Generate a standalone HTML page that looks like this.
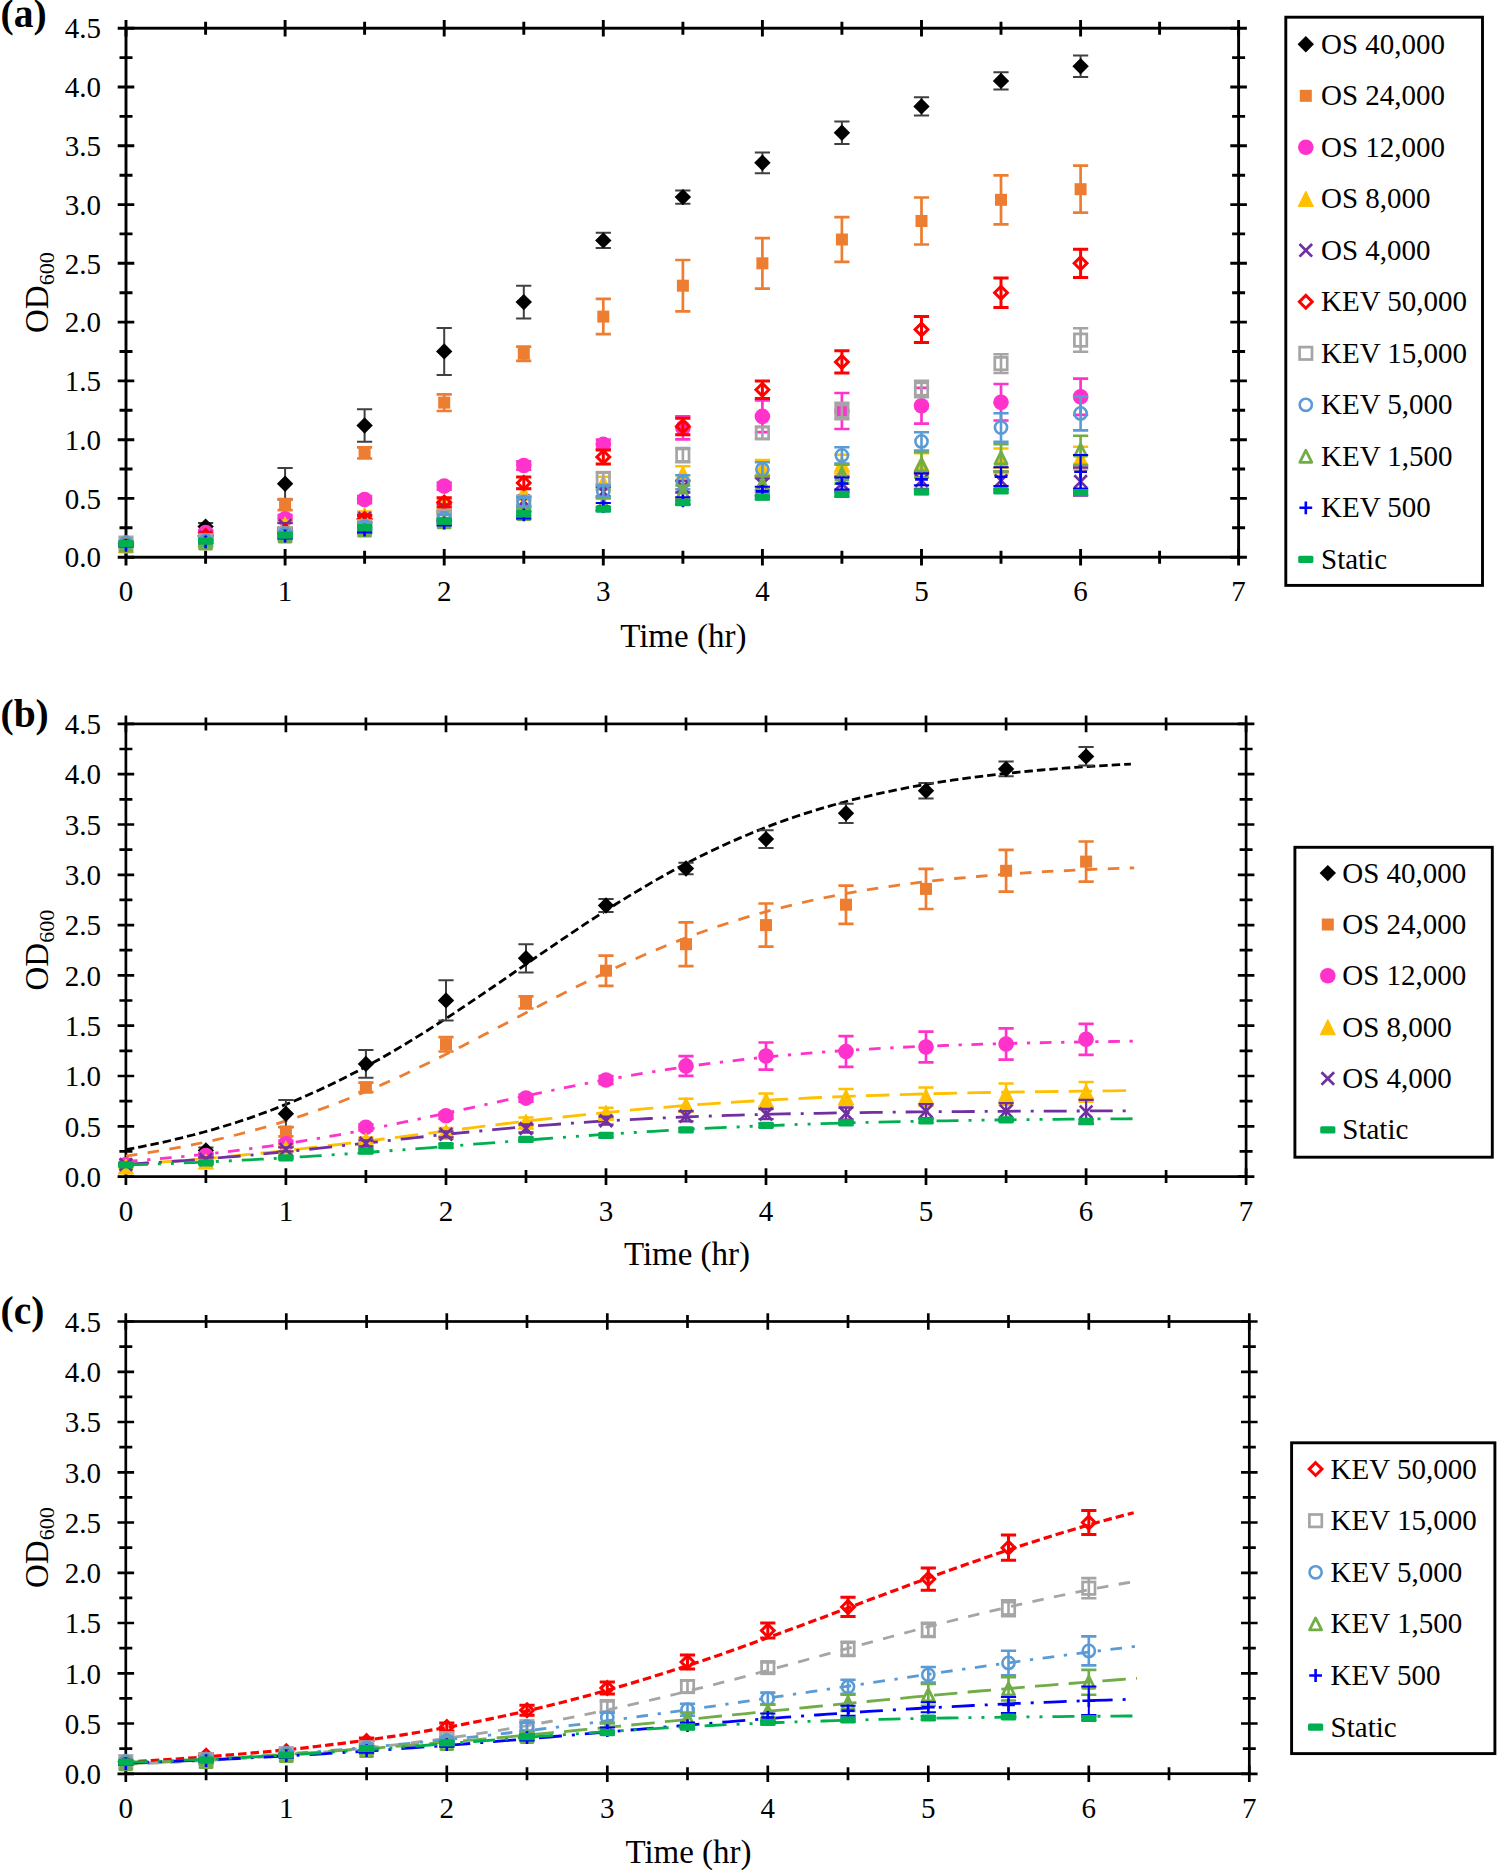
<!DOCTYPE html>
<html><head><meta charset="utf-8"><style>
html,body{margin:0;padding:0;background:#fff;}
svg{display:block;}
text{font-family:"Liberation Serif", serif;fill:#000;}
</style></head><body>
<svg width="1497" height="1870" viewBox="0 0 1497 1870">
<rect x="126.0" y="28.2" width="1112.6" height="529.0" fill="none" stroke="#000" stroke-width="2.9"/><path d="M117.7,557.2H134.3M1230.3,557.2H1246.9M119.5,527.8H132.5M1232.1,527.8H1245.1M117.7,498.4H134.3M1230.3,498.4H1246.9M119.5,469.0H132.5M1232.1,469.0H1245.1M117.7,439.7H134.3M1230.3,439.7H1246.9M119.5,410.3H132.5M1232.1,410.3H1245.1M117.7,380.9H134.3M1230.3,380.9H1246.9M119.5,351.5H132.5M1232.1,351.5H1245.1M117.7,322.1H134.3M1230.3,322.1H1246.9M119.5,292.7H132.5M1232.1,292.7H1245.1M117.7,263.3H134.3M1230.3,263.3H1246.9M119.5,233.9H132.5M1232.1,233.9H1245.1M117.7,204.6H134.3M1230.3,204.6H1246.9M119.5,175.2H132.5M1232.1,175.2H1245.1M117.7,145.8H134.3M1230.3,145.8H1246.9M119.5,116.4H132.5M1232.1,116.4H1245.1M117.7,87.0H134.3M1230.3,87.0H1246.9M119.5,57.6H132.5M1232.1,57.6H1245.1M117.7,28.2H134.3M1230.3,28.2H1246.9M126.0,548.9V565.5M126.0,19.9V36.5M205.6,550.7V563.7M205.6,21.7V34.7M285.1,548.9V565.5M285.1,19.9V36.5M364.6,550.7V563.7M364.6,21.7V34.7M444.2,548.9V565.5M444.2,19.9V36.5M523.8,550.7V563.7M523.8,21.7V34.7M603.3,548.9V565.5M603.3,19.9V36.5M682.9,550.7V563.7M682.9,21.7V34.7M762.4,548.9V565.5M762.4,19.9V36.5M841.9,550.7V563.7M841.9,21.7V34.7M921.5,548.9V565.5M921.5,19.9V36.5M1001.0,550.7V563.7M1001.0,21.7V34.7M1080.6,548.9V565.5M1080.6,19.9V36.5M1159.6,550.7V563.7M1159.6,21.7V34.7M1238.6,548.9V565.5M1238.6,19.9V36.5" stroke="#000" stroke-width="2.9" fill="none"/><text x="101.0" y="567.4" text-anchor="end" font-size="29">0.0</text><text x="101.0" y="508.6" text-anchor="end" font-size="29">0.5</text><text x="101.0" y="449.9" text-anchor="end" font-size="29">1.0</text><text x="101.0" y="391.1" text-anchor="end" font-size="29">1.5</text><text x="101.0" y="332.3" text-anchor="end" font-size="29">2.0</text><text x="101.0" y="273.5" text-anchor="end" font-size="29">2.5</text><text x="101.0" y="214.8" text-anchor="end" font-size="29">3.0</text><text x="101.0" y="156.0" text-anchor="end" font-size="29">3.5</text><text x="101.0" y="97.2" text-anchor="end" font-size="29">4.0</text><text x="101.0" y="38.4" text-anchor="end" font-size="29">4.5</text><text x="126.0" y="601.0" text-anchor="middle" font-size="29">0</text><text x="285.1" y="601.0" text-anchor="middle" font-size="29">1</text><text x="444.2" y="601.0" text-anchor="middle" font-size="29">2</text><text x="603.3" y="601.0" text-anchor="middle" font-size="29">3</text><text x="762.4" y="601.0" text-anchor="middle" font-size="29">4</text><text x="921.5" y="601.0" text-anchor="middle" font-size="29">5</text><text x="1080.6" y="601.0" text-anchor="middle" font-size="29">6</text><text x="1238.6" y="601.0" text-anchor="middle" font-size="29">7</text><text x="683.3" y="646.5" text-anchor="middle" font-size="33">Time (hr)</text><text transform="translate(47.5,292.7) rotate(-90)" text-anchor="middle" font-size="33">OD<tspan font-size="22" dy="6">600</tspan></text><text x="0.5" y="27.3" font-size="39.5" font-weight="bold">(a)</text><path d="M126.0,541.9V544.3M118.4,541.9h15.2M118.4,544.3h15.2M205.6,523.1V530.2M198.0,523.1h15.2M198.0,530.2h15.2M285.1,467.9V499.6M277.5,467.9h15.2M277.5,499.6h15.2M364.6,409.3V441.8M357.0,409.3h15.2M357.0,441.8h15.2M444.2,327.9V374.9M436.6,327.9h15.2M436.6,374.9h15.2M523.8,285.7V318.6M516.1,285.7h15.2M516.1,318.6h15.2M603.3,232.8V248.0M595.7,232.8h15.2M595.7,248.0h15.2M682.9,190.4V203.8M675.2,190.4h15.2M675.2,203.8h15.2M762.4,152.5V173.2M754.8,152.5h15.2M754.8,173.2h15.2M841.9,121.4V144.0M834.3,121.4h15.2M834.3,144.0h15.2M921.5,97.2V115.6M913.9,97.2h15.2M913.9,115.6h15.2M1001.0,72.3V89.5M993.4,72.3h15.2M993.4,89.5h15.2M1080.6,55.4V77.0M1073.0,55.4h15.2M1073.0,77.0h15.2" stroke="#404040" stroke-width="2.0" fill="none"/><path d="M126.0,534.9L134.2,543.1L126.0,551.3L117.8,543.1Z" fill="#000000"/><path d="M205.6,518.4L213.8,526.6L205.6,534.8L197.4,526.6Z" fill="#000000"/><path d="M285.1,475.5L293.3,483.7L285.1,491.9L276.9,483.7Z" fill="#000000"/><path d="M364.6,417.3L372.8,425.5L364.6,433.7L356.4,425.5Z" fill="#000000"/><path d="M444.2,343.2L452.4,351.4L444.2,359.6L436.0,351.4Z" fill="#000000"/><path d="M523.8,293.9L532.0,302.1L523.8,310.3L515.5,302.1Z" fill="#000000"/><path d="M603.3,232.2L611.5,240.4L603.3,248.6L595.1,240.4Z" fill="#000000"/><path d="M682.9,188.9L691.1,197.1L682.9,205.3L674.6,197.1Z" fill="#000000"/><path d="M762.4,154.6L770.6,162.8L762.4,171.0L754.2,162.8Z" fill="#000000"/><path d="M841.9,124.5L850.1,132.7L841.9,140.9L833.7,132.7Z" fill="#000000"/><path d="M921.5,98.2L929.7,106.4L921.5,114.6L913.3,106.4Z" fill="#000000"/><path d="M1001.0,72.7L1009.2,80.9L1001.0,89.1L992.8,80.9Z" fill="#000000"/><path d="M1080.6,58.0L1088.8,66.2L1080.6,74.4L1072.4,66.2Z" fill="#000000"/><path d="M126.0,541.9V544.3M118.4,541.9h15.2M118.4,544.3h15.2M205.6,536.0V540.7M198.0,536.0h15.2M198.0,540.7h15.2M285.1,499.2V510.1M277.5,499.2h15.2M277.5,510.1h15.2M364.6,447.4V458.5M357.0,447.4h15.2M357.0,458.5h15.2M444.2,394.3V411.0M436.6,394.3h15.2M436.6,411.0h15.2M523.8,346.7V360.8M516.1,346.7h15.2M516.1,360.8h15.2M603.3,298.9V334.2M595.7,298.9h15.2M595.7,334.2h15.2M682.9,260.0V311.3M675.2,260.0h15.2M675.2,311.3h15.2M762.4,238.1V288.6M754.8,238.1h15.2M754.8,288.6h15.2M841.9,217.1V261.8M834.3,217.1h15.2M834.3,261.8h15.2M921.5,197.5V244.5M913.9,197.5h15.2M913.9,244.5h15.2M1001.0,175.4V224.3M993.4,175.4h15.2M993.4,224.3h15.2M1080.6,165.6V212.7M1073.0,165.6h15.2M1073.0,212.7h15.2" stroke="#ed7d31" stroke-width="2.7" fill="none"/><rect x="120.0" y="537.1" width="12.0" height="12.0" fill="#ed7d31"/><rect x="199.6" y="532.4" width="12.0" height="12.0" fill="#ed7d31"/><rect x="279.1" y="498.7" width="12.0" height="12.0" fill="#ed7d31"/><rect x="358.6" y="446.9" width="12.0" height="12.0" fill="#ed7d31"/><rect x="438.2" y="396.6" width="12.0" height="12.0" fill="#ed7d31"/><rect x="517.8" y="347.7" width="12.0" height="12.0" fill="#ed7d31"/><rect x="597.3" y="310.6" width="12.0" height="12.0" fill="#ed7d31"/><rect x="676.9" y="279.7" width="12.0" height="12.0" fill="#ed7d31"/><rect x="756.4" y="257.3" width="12.0" height="12.0" fill="#ed7d31"/><rect x="835.9" y="233.5" width="12.0" height="12.0" fill="#ed7d31"/><rect x="915.5" y="215.0" width="12.0" height="12.0" fill="#ed7d31"/><rect x="995.0" y="193.8" width="12.0" height="12.0" fill="#ed7d31"/><rect x="1074.6" y="183.2" width="12.0" height="12.0" fill="#ed7d31"/><path d="M126.0,541.9V544.3M118.4,541.9h15.2M118.4,544.3h15.2M205.6,530.2V534.9M198.0,530.2h15.2M198.0,534.9h15.2M285.1,515.2V522.3M277.5,515.2h15.2M277.5,522.3h15.2M364.6,496.1V503.1M357.0,496.1h15.2M357.0,503.1h15.2M444.2,482.6V489.6M436.6,482.6h15.2M436.6,489.6h15.2M523.8,461.4V469.6M516.1,461.4h15.2M516.1,469.6h15.2M603.3,439.7V449.1M595.7,439.7h15.2M595.7,449.1h15.2M682.9,416.4V439.4M675.2,416.4h15.2M675.2,439.4h15.2M762.4,400.5V432.2M754.8,400.5h15.2M754.8,432.2h15.2M841.9,393.0V429.0M834.3,393.0h15.2M834.3,429.0h15.2M921.5,387.9V423.7M913.9,387.9h15.2M913.9,423.7h15.2M1001.0,384.0V420.5M993.4,384.0h15.2M993.4,420.5h15.2M1080.6,378.6V414.8M1073.0,378.6h15.2M1073.0,414.8h15.2" stroke="#ff33cc" stroke-width="2.7" fill="none"/><circle cx="126.0" cy="543.1" r="7.8" fill="#ff33cc"/><circle cx="205.6" cy="532.5" r="7.8" fill="#ff33cc"/><circle cx="285.1" cy="518.8" r="7.8" fill="#ff33cc"/><circle cx="364.6" cy="499.6" r="7.8" fill="#ff33cc"/><circle cx="444.2" cy="486.1" r="7.8" fill="#ff33cc"/><circle cx="523.8" cy="465.5" r="7.8" fill="#ff33cc"/><circle cx="603.3" cy="444.4" r="7.8" fill="#ff33cc"/><circle cx="682.9" cy="427.9" r="7.8" fill="#ff33cc"/><circle cx="762.4" cy="416.4" r="7.8" fill="#ff33cc"/><circle cx="841.9" cy="411.0" r="7.8" fill="#ff33cc"/><circle cx="921.5" cy="405.8" r="7.8" fill="#ff33cc"/><circle cx="1001.0" cy="402.3" r="7.8" fill="#ff33cc"/><circle cx="1080.6" cy="396.7" r="7.8" fill="#ff33cc"/><path d="M126.0,544.3V546.6M118.4,544.3h15.2M118.4,546.6h15.2M205.6,537.2V541.9M198.0,537.2h15.2M198.0,541.9h15.2M285.1,520.8V527.8M277.5,520.8h15.2M277.5,527.8h15.2M364.6,511.4V518.4M357.0,511.4h15.2M357.0,518.4h15.2M444.2,500.3V509.7M436.6,500.3h15.2M436.6,509.7h15.2M523.8,488.3V497.7M516.1,488.3h15.2M516.1,497.7h15.2M603.3,476.8V488.6M595.7,476.8h15.2M595.7,488.6h15.2M682.9,466.3V480.4M675.2,466.3h15.2M675.2,480.4h15.2M762.4,460.0V476.4M754.8,460.0h15.2M754.8,476.4h15.2M841.9,454.8V473.6M834.3,454.8h15.2M834.3,473.6h15.2M921.5,453.2V474.3M913.9,453.2h15.2M913.9,474.3h15.2M1001.0,448.5V473.2M993.4,448.5h15.2M993.4,473.2h15.2M1080.6,446.8V469.6M1073.0,446.8h15.2M1073.0,469.6h15.2" stroke="#ffc000" stroke-width="2.5" fill="none"/><path d="M126.0,537.8L133.6,553.0L118.4,553.0Z" fill="#ffc000" stroke="#ffc000" stroke-width="1" stroke-linejoin="round"/><path d="M205.6,532.0L213.2,547.2L198.0,547.2Z" fill="#ffc000" stroke="#ffc000" stroke-width="1" stroke-linejoin="round"/><path d="M285.1,516.7L292.7,531.9L277.5,531.9Z" fill="#ffc000" stroke="#ffc000" stroke-width="1" stroke-linejoin="round"/><path d="M364.6,507.3L372.2,522.5L357.0,522.5Z" fill="#ffc000" stroke="#ffc000" stroke-width="1" stroke-linejoin="round"/><path d="M444.2,497.4L451.8,512.6L436.6,512.6Z" fill="#ffc000" stroke="#ffc000" stroke-width="1" stroke-linejoin="round"/><path d="M523.8,485.4L531.4,500.6L516.1,500.6Z" fill="#ffc000" stroke="#ffc000" stroke-width="1" stroke-linejoin="round"/><path d="M603.3,475.1L610.9,490.3L595.7,490.3Z" fill="#ffc000" stroke="#ffc000" stroke-width="1" stroke-linejoin="round"/><path d="M682.9,465.8L690.5,481.0L675.2,481.0Z" fill="#ffc000" stroke="#ffc000" stroke-width="1" stroke-linejoin="round"/><path d="M762.4,460.6L770.0,475.8L754.8,475.8Z" fill="#ffc000" stroke="#ffc000" stroke-width="1" stroke-linejoin="round"/><path d="M841.9,456.6L849.5,471.8L834.3,471.8Z" fill="#ffc000" stroke="#ffc000" stroke-width="1" stroke-linejoin="round"/><path d="M921.5,456.1L929.1,471.3L913.9,471.3Z" fill="#ffc000" stroke="#ffc000" stroke-width="1" stroke-linejoin="round"/><path d="M1001.0,453.2L1008.6,468.4L993.4,468.4Z" fill="#ffc000" stroke="#ffc000" stroke-width="1" stroke-linejoin="round"/><path d="M1080.6,450.6L1088.2,465.8L1073.0,465.8Z" fill="#ffc000" stroke="#ffc000" stroke-width="1" stroke-linejoin="round"/><path d="M126.0,541.9V544.3M118.4,541.9h15.2M118.4,544.3h15.2M205.6,534.9V539.6M198.0,534.9h15.2M198.0,539.6h15.2M285.1,523.1V527.8M277.5,523.1h15.2M277.5,527.8h15.2M364.6,514.8V521.8M357.0,514.8h15.2M357.0,521.8h15.2M444.2,504.3V511.4M436.6,504.3h15.2M436.6,511.4h15.2M523.8,496.3V505.7M516.1,496.3h15.2M516.1,505.7h15.2M603.3,487.1V496.5M595.7,487.1h15.2M595.7,496.5h15.2M682.9,480.8V492.5M675.2,480.8h15.2M675.2,492.5h15.2M762.4,478.2V490.0M754.8,478.2h15.2M754.8,490.0h15.2M841.9,476.4V490.5M834.3,476.4h15.2M834.3,490.5h15.2M921.5,472.4V488.9M913.9,472.4h15.2M913.9,488.9h15.2M1001.0,471.3V490.1M993.4,471.3h15.2M993.4,490.1h15.2M1080.6,467.5V495.7M1073.0,467.5h15.2M1073.0,495.7h15.2" stroke="#7030a0" stroke-width="2.3" fill="none"/><path d="M119.7,536.8L132.3,549.4M132.3,536.8L119.7,549.4" stroke="#7030a0" stroke-width="2.7" fill="none"/><path d="M199.2,530.9L211.9,543.5M211.9,530.9L199.2,543.5" stroke="#7030a0" stroke-width="2.7" fill="none"/><path d="M278.8,519.2L291.4,531.8M291.4,519.2L278.8,531.8" stroke="#7030a0" stroke-width="2.7" fill="none"/><path d="M358.3,512.0L370.9,524.6M370.9,512.0L358.3,524.6" stroke="#7030a0" stroke-width="2.7" fill="none"/><path d="M437.9,501.5L450.5,514.1M450.5,501.5L437.9,514.1" stroke="#7030a0" stroke-width="2.7" fill="none"/><path d="M517.5,494.7L530.0,507.3M530.0,494.7L517.5,507.3" stroke="#7030a0" stroke-width="2.7" fill="none"/><path d="M597.0,485.5L609.6,498.1M609.6,485.5L597.0,498.1" stroke="#7030a0" stroke-width="2.7" fill="none"/><path d="M676.6,480.4L689.1,493.0M689.1,480.4L676.6,493.0" stroke="#7030a0" stroke-width="2.7" fill="none"/><path d="M756.1,477.8L768.7,490.4M768.7,477.8L756.1,490.4" stroke="#7030a0" stroke-width="2.7" fill="none"/><path d="M835.6,477.2L848.2,489.8M848.2,477.2L835.6,489.8" stroke="#7030a0" stroke-width="2.7" fill="none"/><path d="M915.2,474.4L927.8,487.0M927.8,474.4L915.2,487.0" stroke="#7030a0" stroke-width="2.7" fill="none"/><path d="M994.8,474.4L1007.3,487.0M1007.3,474.4L994.8,487.0" stroke="#7030a0" stroke-width="2.7" fill="none"/><path d="M1074.3,475.3L1086.9,487.9M1086.9,475.3L1074.3,487.9" stroke="#7030a0" stroke-width="2.7" fill="none"/><path d="M126.0,541.9V544.3M118.4,541.9h15.2M118.4,544.3h15.2M205.6,533.7V538.4M198.0,533.7h15.2M198.0,538.4h15.2M285.1,528.5V533.2M277.5,528.5h15.2M277.5,533.2h15.2M364.6,515.5V522.5M357.0,515.5h15.2M357.0,522.5h15.2M444.2,497.7V507.1M436.6,497.7h15.2M436.6,507.1h15.2M523.8,477.0V488.8M516.1,477.0h15.2M516.1,488.8h15.2M603.3,449.9V464.0M595.7,449.9h15.2M595.7,464.0h15.2M682.9,418.3V434.7M675.2,418.3h15.2M675.2,434.7h15.2M762.4,380.9V398.5M754.8,380.9h15.2M754.8,398.5h15.2M841.9,350.8V373.1M834.3,350.8h15.2M834.3,373.1h15.2M921.5,316.6V342.4M913.9,316.6h15.2M913.9,342.4h15.2M1001.0,278.0V307.4M993.4,278.0h15.2M993.4,307.4h15.2M1080.6,249.2V277.4M1073.0,249.2h15.2M1073.0,277.4h15.2" stroke="#ff0000" stroke-width="3.0" fill="none"/><path d="M126.0,536.7L132.4,543.1L126.0,549.5L119.6,543.1Z" fill="none" stroke="#ff0000" stroke-width="3"/><path d="M205.6,529.6L212.0,536.0L205.6,542.4L199.2,536.0Z" fill="none" stroke="#ff0000" stroke-width="3"/><path d="M285.1,524.5L291.5,530.9L285.1,537.3L278.7,530.9Z" fill="none" stroke="#ff0000" stroke-width="3"/><path d="M364.6,512.6L371.0,519.0L364.6,525.4L358.2,519.0Z" fill="none" stroke="#ff0000" stroke-width="3"/><path d="M444.2,496.0L450.6,502.4L444.2,508.8L437.8,502.4Z" fill="none" stroke="#ff0000" stroke-width="3"/><path d="M523.8,476.5L530.1,482.9L523.8,489.3L517.4,482.9Z" fill="none" stroke="#ff0000" stroke-width="3"/><path d="M603.3,450.5L609.7,456.9L603.3,463.3L596.9,456.9Z" fill="none" stroke="#ff0000" stroke-width="3"/><path d="M682.9,420.1L689.2,426.5L682.9,432.9L676.5,426.5Z" fill="none" stroke="#ff0000" stroke-width="3"/><path d="M762.4,383.3L768.8,389.7L762.4,396.1L756.0,389.7Z" fill="none" stroke="#ff0000" stroke-width="3"/><path d="M841.9,355.5L848.3,361.9L841.9,368.3L835.5,361.9Z" fill="none" stroke="#ff0000" stroke-width="3"/><path d="M921.5,323.1L927.9,329.5L921.5,335.9L915.1,329.5Z" fill="none" stroke="#ff0000" stroke-width="3"/><path d="M1001.0,286.3L1007.4,292.7L1001.0,299.1L994.6,292.7Z" fill="none" stroke="#ff0000" stroke-width="3"/><path d="M1080.6,256.9L1087.0,263.3L1080.6,269.7L1074.2,263.3Z" fill="none" stroke="#ff0000" stroke-width="3"/><path d="M126.0,541.9V544.3M118.4,541.9h15.2M118.4,544.3h15.2M205.6,538.4V543.1M198.0,538.4h15.2M198.0,543.1h15.2M285.1,531.3V536.0M277.5,531.3h15.2M277.5,536.0h15.2M364.6,523.1V530.2M357.0,523.1h15.2M357.0,530.2h15.2M444.2,512.5V519.6M436.6,512.5h15.2M436.6,519.6h15.2M523.8,497.4V506.8M516.1,497.4h15.2M516.1,506.8h15.2M603.3,472.6V484.3M595.7,472.6h15.2M595.7,484.3h15.2M682.9,448.1V462.2M675.2,448.1h15.2M675.2,462.2h15.2M762.4,427.1V438.8M754.8,427.1h15.2M754.8,438.8h15.2M841.9,402.9V419.3M834.3,402.9h15.2M834.3,419.3h15.2M921.5,380.8V397.2M913.9,380.8h15.2M913.9,397.2h15.2M1001.0,354.2V373.0M993.4,354.2h15.2M993.4,373.0h15.2M1080.6,328.3V351.8M1073.0,328.3h15.2M1073.0,351.8h15.2" stroke="#a5a5a5" stroke-width="2.6" fill="none"/><rect x="119.8" y="536.9" width="12.4" height="12.4" fill="none" stroke="#a5a5a5" stroke-width="2.7"/><rect x="199.4" y="534.5" width="12.4" height="12.4" fill="none" stroke="#a5a5a5" stroke-width="2.7"/><rect x="278.9" y="527.5" width="12.4" height="12.4" fill="none" stroke="#a5a5a5" stroke-width="2.7"/><rect x="358.4" y="520.4" width="12.4" height="12.4" fill="none" stroke="#a5a5a5" stroke-width="2.7"/><rect x="438.0" y="509.9" width="12.4" height="12.4" fill="none" stroke="#a5a5a5" stroke-width="2.7"/><rect x="517.5" y="495.9" width="12.4" height="12.4" fill="none" stroke="#a5a5a5" stroke-width="2.7"/><rect x="597.1" y="472.2" width="12.4" height="12.4" fill="none" stroke="#a5a5a5" stroke-width="2.7"/><rect x="676.6" y="449.0" width="12.4" height="12.4" fill="none" stroke="#a5a5a5" stroke-width="2.7"/><rect x="756.2" y="426.7" width="12.4" height="12.4" fill="none" stroke="#a5a5a5" stroke-width="2.7"/><rect x="835.7" y="404.9" width="12.4" height="12.4" fill="none" stroke="#a5a5a5" stroke-width="2.7"/><rect x="915.3" y="382.8" width="12.4" height="12.4" fill="none" stroke="#a5a5a5" stroke-width="2.7"/><rect x="994.8" y="357.4" width="12.4" height="12.4" fill="none" stroke="#a5a5a5" stroke-width="2.7"/><rect x="1074.4" y="333.9" width="12.4" height="12.4" fill="none" stroke="#a5a5a5" stroke-width="2.7"/><path d="M126.0,541.9V544.3M118.4,541.9h15.2M118.4,544.3h15.2M205.6,538.4V543.1M198.0,538.4h15.2M198.0,543.1h15.2M285.1,531.3V536.0M277.5,531.3h15.2M277.5,536.0h15.2M364.6,523.1V530.2M357.0,523.1h15.2M357.0,530.2h15.2M444.2,514.9V521.9M436.6,514.9h15.2M436.6,521.9h15.2M523.8,497.4V506.8M516.1,497.4h15.2M516.1,506.8h15.2M603.3,485.6V497.4M595.7,485.6h15.2M595.7,497.4h15.2M682.9,475.2V489.3M675.2,475.2h15.2M675.2,489.3h15.2M762.4,462.2V476.3M754.8,462.2h15.2M754.8,476.3h15.2M841.9,447.2V463.6M834.3,447.2h15.2M834.3,463.6h15.2M921.5,432.2V450.6M913.9,432.2h15.2M913.9,450.6h15.2M1001.0,413.2V441.9M993.4,413.2h15.2M993.4,441.9h15.2M1080.6,396.5V430.4M1073.0,396.5h15.2M1073.0,430.4h15.2" stroke="#5b9bd5" stroke-width="2.6" fill="none"/><circle cx="126.0" cy="543.1" r="6.1" fill="none" stroke="#5b9bd5" stroke-width="2.6"/><circle cx="205.6" cy="540.7" r="6.1" fill="none" stroke="#5b9bd5" stroke-width="2.6"/><circle cx="285.1" cy="533.7" r="6.1" fill="none" stroke="#5b9bd5" stroke-width="2.6"/><circle cx="364.6" cy="526.6" r="6.1" fill="none" stroke="#5b9bd5" stroke-width="2.6"/><circle cx="444.2" cy="518.4" r="6.1" fill="none" stroke="#5b9bd5" stroke-width="2.6"/><circle cx="523.8" cy="502.1" r="6.1" fill="none" stroke="#5b9bd5" stroke-width="2.6"/><circle cx="603.3" cy="491.5" r="6.1" fill="none" stroke="#5b9bd5" stroke-width="2.6"/><circle cx="682.9" cy="482.2" r="6.1" fill="none" stroke="#5b9bd5" stroke-width="2.6"/><circle cx="762.4" cy="469.3" r="6.1" fill="none" stroke="#5b9bd5" stroke-width="2.6"/><circle cx="841.9" cy="455.4" r="6.1" fill="none" stroke="#5b9bd5" stroke-width="2.6"/><circle cx="921.5" cy="441.4" r="6.1" fill="none" stroke="#5b9bd5" stroke-width="2.6"/><circle cx="1001.0" cy="427.5" r="6.1" fill="none" stroke="#5b9bd5" stroke-width="2.6"/><circle cx="1080.6" cy="413.4" r="6.1" fill="none" stroke="#5b9bd5" stroke-width="2.6"/><path d="M126.0,544.3V546.6M118.4,544.3h15.2M118.4,546.6h15.2M205.6,540.7V545.4M198.0,540.7h15.2M198.0,545.4h15.2M285.1,533.7V538.4M277.5,533.7h15.2M277.5,538.4h15.2M364.6,526.6V533.7M357.0,526.6h15.2M357.0,533.7h15.2M444.2,518.4V525.5M436.6,518.4h15.2M436.6,525.5h15.2M523.8,509.0V518.4M516.1,509.0h15.2M516.1,518.4h15.2M603.3,498.4V510.2M595.7,498.4h15.2M595.7,510.2h15.2M682.9,485.5V499.6M675.2,485.5h15.2M675.2,499.6h15.2M762.4,476.0V492.4M754.8,476.0h15.2M754.8,492.4h15.2M841.9,464.8V483.6M834.3,464.8h15.2M834.3,483.6h15.2M921.5,452.1V477.5M913.9,452.1h15.2M913.9,477.5h15.2M1001.0,444.2V471.5M993.4,444.2h15.2M993.4,471.5h15.2M1080.6,435.7V464.8M1073.0,435.7h15.2M1073.0,464.8h15.2" stroke="#70ad47" stroke-width="2.6" fill="none"/><path d="M126.0,539.4L132.0,551.4L120.0,551.4Z" fill="none" stroke="#70ad47" stroke-width="2.8" stroke-linejoin="round"/><path d="M205.6,537.1L211.6,549.1L199.6,549.1Z" fill="none" stroke="#70ad47" stroke-width="2.8" stroke-linejoin="round"/><path d="M285.1,530.0L291.1,542.0L279.1,542.0Z" fill="none" stroke="#70ad47" stroke-width="2.8" stroke-linejoin="round"/><path d="M364.6,524.2L370.6,536.2L358.6,536.2Z" fill="none" stroke="#70ad47" stroke-width="2.8" stroke-linejoin="round"/><path d="M444.2,515.9L450.2,527.9L438.2,527.9Z" fill="none" stroke="#70ad47" stroke-width="2.8" stroke-linejoin="round"/><path d="M523.8,507.7L529.8,519.7L517.8,519.7Z" fill="none" stroke="#70ad47" stroke-width="2.8" stroke-linejoin="round"/><path d="M603.3,498.3L609.3,510.3L597.3,510.3Z" fill="none" stroke="#70ad47" stroke-width="2.8" stroke-linejoin="round"/><path d="M682.9,486.5L688.9,498.5L676.9,498.5Z" fill="none" stroke="#70ad47" stroke-width="2.8" stroke-linejoin="round"/><path d="M762.4,478.2L768.4,490.2L756.4,490.2Z" fill="none" stroke="#70ad47" stroke-width="2.8" stroke-linejoin="round"/><path d="M841.9,468.2L847.9,480.2L835.9,480.2Z" fill="none" stroke="#70ad47" stroke-width="2.8" stroke-linejoin="round"/><path d="M921.5,458.8L927.5,470.8L915.5,470.8Z" fill="none" stroke="#70ad47" stroke-width="2.8" stroke-linejoin="round"/><path d="M1001.0,451.9L1007.0,463.9L995.0,463.9Z" fill="none" stroke="#70ad47" stroke-width="2.8" stroke-linejoin="round"/><path d="M1080.6,444.2L1086.6,456.2L1074.6,456.2Z" fill="none" stroke="#70ad47" stroke-width="2.8" stroke-linejoin="round"/><path d="M126.0,544.3V546.6M118.4,544.3h15.2M118.4,546.6h15.2M205.6,540.7V543.1M198.0,540.7h15.2M198.0,543.1h15.2M285.1,533.7V538.4M277.5,533.7h15.2M277.5,538.4h15.2M364.6,527.8V532.5M357.0,527.8h15.2M357.0,532.5h15.2M444.2,520.8V525.5M436.6,520.8h15.2M436.6,525.5h15.2M523.8,511.4V518.4M516.1,511.4h15.2M516.1,518.4h15.2M603.3,503.1V510.2M595.7,503.1h15.2M595.7,510.2h15.2M682.9,497.2V504.3M675.2,497.2h15.2M675.2,504.3h15.2M762.4,486.7V496.1M754.8,486.7h15.2M754.8,496.1h15.2M841.9,477.6V489.4M834.3,477.6h15.2M834.3,489.4h15.2M921.5,473.5V485.3M913.9,473.5h15.2M913.9,485.3h15.2M1001.0,467.3V486.1M993.4,467.3h15.2M993.4,486.1h15.2M1080.6,454.9V488.6M1073.0,454.9h15.2M1073.0,488.6h15.2" stroke="#0000ff" stroke-width="2.0" fill="none"/><path d="M119.6,545.4L132.4,545.4M126.0,539.0L126.0,551.8" stroke="#0000ff" stroke-width="2.6" fill="none"/><path d="M199.2,541.9L212.0,541.9M205.6,535.5L205.6,548.3" stroke="#0000ff" stroke-width="2.6" fill="none"/><path d="M278.7,536.0L291.5,536.0M285.1,529.6L285.1,542.4" stroke="#0000ff" stroke-width="2.6" fill="none"/><path d="M358.2,530.2L371.0,530.2M364.6,523.8L364.6,536.6" stroke="#0000ff" stroke-width="2.6" fill="none"/><path d="M437.8,523.1L450.6,523.1M444.2,516.7L444.2,529.5" stroke="#0000ff" stroke-width="2.6" fill="none"/><path d="M517.4,514.9L530.1,514.9M523.8,508.5L523.8,521.3" stroke="#0000ff" stroke-width="2.6" fill="none"/><path d="M596.9,506.7L609.7,506.7M603.3,500.3L603.3,513.1" stroke="#0000ff" stroke-width="2.6" fill="none"/><path d="M676.5,500.8L689.2,500.8M682.9,494.4L682.9,507.2" stroke="#0000ff" stroke-width="2.6" fill="none"/><path d="M756.0,491.4L768.8,491.4M762.4,485.0L762.4,497.8" stroke="#0000ff" stroke-width="2.6" fill="none"/><path d="M835.5,483.5L848.3,483.5M841.9,477.1L841.9,489.9" stroke="#0000ff" stroke-width="2.6" fill="none"/><path d="M915.1,479.4L927.9,479.4M921.5,473.0L921.5,485.8" stroke="#0000ff" stroke-width="2.6" fill="none"/><path d="M994.6,476.7L1007.4,476.7M1001.0,470.3L1001.0,483.1" stroke="#0000ff" stroke-width="2.6" fill="none"/><path d="M1074.2,471.7L1087.0,471.7M1080.6,465.3L1080.6,478.1" stroke="#0000ff" stroke-width="2.6" fill="none"/><path d="M126.0,542.4V544.7M118.4,542.4h15.2M118.4,544.7h15.2M205.6,540.0V542.4M198.0,540.0h15.2M198.0,542.4h15.2M285.1,534.0V536.4M277.5,534.0h15.2M277.5,536.4h15.2M364.6,525.2V529.9M357.0,525.2h15.2M357.0,529.9h15.2M444.2,518.8V523.5M436.6,518.8h15.2M436.6,523.5h15.2M523.8,511.4V516.1M516.1,511.4h15.2M516.1,516.1h15.2M603.3,506.7V511.4M595.7,506.7h15.2M595.7,511.4h15.2M682.9,500.3V505.0M675.2,500.3h15.2M675.2,505.0h15.2M762.4,494.9V499.6M754.8,494.9h15.2M754.8,499.6h15.2M841.9,492.0V496.7M834.3,492.0h15.2M834.3,496.7h15.2M921.5,489.6V494.3M913.9,489.6h15.2M913.9,494.3h15.2M1001.0,488.4V493.1M993.4,488.4h15.2M993.4,493.1h15.2M1080.6,490.2V494.9M1073.0,490.2h15.2M1073.0,494.9h15.2" stroke="#00b050" stroke-width="2.0" fill="none"/><rect x="118.4" y="540.0" width="15.2" height="7.2" rx="1.5" fill="#00b050"/><rect x="198.0" y="537.6" width="15.2" height="7.2" rx="1.5" fill="#00b050"/><rect x="277.5" y="531.6" width="15.2" height="7.2" rx="1.5" fill="#00b050"/><rect x="357.0" y="524.0" width="15.2" height="7.2" rx="1.5" fill="#00b050"/><rect x="436.6" y="517.5" width="15.2" height="7.2" rx="1.5" fill="#00b050"/><rect x="516.1" y="510.1" width="15.2" height="7.2" rx="1.5" fill="#00b050"/><rect x="595.7" y="505.4" width="15.2" height="7.2" rx="1.5" fill="#00b050"/><rect x="675.2" y="499.1" width="15.2" height="7.2" rx="1.5" fill="#00b050"/><rect x="754.8" y="493.6" width="15.2" height="7.2" rx="1.5" fill="#00b050"/><rect x="834.3" y="490.7" width="15.2" height="7.2" rx="1.5" fill="#00b050"/><rect x="913.9" y="488.4" width="15.2" height="7.2" rx="1.5" fill="#00b050"/><rect x="993.4" y="487.2" width="15.2" height="7.2" rx="1.5" fill="#00b050"/><rect x="1073.0" y="488.9" width="15.2" height="7.2" rx="1.5" fill="#00b050"/><rect x="1285.8" y="17.2" width="196.7" height="568.2" fill="#fff" stroke="#000" stroke-width="2.9"/><path d="M1305.8,36.1L1314.0,44.3L1305.8,52.5L1297.6,44.3Z" fill="#000000"/><text x="1321.0" y="53.8" font-size="29">OS 40,000</text><rect x="1299.8" y="89.8" width="12.0" height="12.0" fill="#ed7d31"/><text x="1321.0" y="105.3" font-size="29">OS 24,000</text><circle cx="1305.8" cy="147.3" r="7.8" fill="#ff33cc"/><text x="1321.0" y="156.8" font-size="29">OS 12,000</text><path d="M1305.8,191.2L1313.4,206.4L1298.2,206.4Z" fill="#ffc000" stroke="#ffc000" stroke-width="1" stroke-linejoin="round"/><text x="1321.0" y="208.3" font-size="29">OS 8,000</text><path d="M1299.5,244.0L1312.1,256.6M1312.1,244.0L1299.5,256.6" stroke="#7030a0" stroke-width="2.7" fill="none"/><text x="1321.0" y="259.8" font-size="29">OS 4,000</text><path d="M1305.8,295.4L1312.2,301.8L1305.8,308.2L1299.4,301.8Z" fill="none" stroke="#ff0000" stroke-width="3"/><text x="1321.0" y="311.3" font-size="29">KEV 50,000</text><rect x="1299.6" y="347.1" width="12.4" height="12.4" fill="none" stroke="#a5a5a5" stroke-width="2.7"/><text x="1321.0" y="362.8" font-size="29">KEV 15,000</text><circle cx="1305.8" cy="404.8" r="6.1" fill="none" stroke="#5b9bd5" stroke-width="2.6"/><text x="1321.0" y="414.3" font-size="29">KEV 5,000</text><path d="M1305.8,450.3L1311.8,462.3L1299.8,462.3Z" fill="none" stroke="#70ad47" stroke-width="2.8" stroke-linejoin="round"/><text x="1321.0" y="465.8" font-size="29">KEV 1,500</text><path d="M1299.4,507.8L1312.2,507.8M1305.8,501.4L1305.8,514.2" stroke="#0000ff" stroke-width="2.6" fill="none"/><text x="1321.0" y="517.3" font-size="29">KEV 500</text><rect x="1298.2" y="555.7" width="15.2" height="7.2" rx="1.5" fill="#00b050"/><text x="1321.0" y="568.8" font-size="29">Static</text><rect x="125.9" y="723.9" width="1120.2" height="452.7" fill="none" stroke="#000" stroke-width="2.7"/><path d="M117.6,1176.6H134.2M1237.8,1176.6H1254.4M119.4,1151.4H132.4M1239.6,1151.4H1252.6M117.6,1126.3H134.2M1237.8,1126.3H1254.4M119.4,1101.1H132.4M1239.6,1101.1H1252.6M117.6,1076.0H134.2M1237.8,1076.0H1254.4M119.4,1050.8H132.4M1239.6,1050.8H1252.6M117.6,1025.7H134.2M1237.8,1025.7H1254.4M119.4,1000.5H132.4M1239.6,1000.5H1252.6M117.6,975.4H134.2M1237.8,975.4H1254.4M119.4,950.2H132.4M1239.6,950.2H1252.6M117.6,925.1H134.2M1237.8,925.1H1254.4M119.4,899.9H132.4M1239.6,899.9H1252.6M117.6,874.8H134.2M1237.8,874.8H1254.4M119.4,849.6H132.4M1239.6,849.6H1252.6M117.6,824.5H134.2M1237.8,824.5H1254.4M119.4,799.3H132.4M1239.6,799.3H1252.6M117.6,774.2H134.2M1237.8,774.2H1254.4M119.4,749.0H132.4M1239.6,749.0H1252.6M117.6,723.9H134.2M1237.8,723.9H1254.4M125.9,1168.3V1184.9M125.9,715.6V732.2M205.9,1170.1V1183.1M205.9,717.4V730.4M285.9,1168.3V1184.9M285.9,715.6V732.2M365.9,1170.1V1183.1M365.9,717.4V730.4M446.0,1168.3V1184.9M446.0,715.6V732.2M526.0,1170.1V1183.1M526.0,717.4V730.4M606.0,1168.3V1184.9M606.0,715.6V732.2M686.0,1170.1V1183.1M686.0,717.4V730.4M766.0,1168.3V1184.9M766.0,715.6V732.2M846.0,1170.1V1183.1M846.0,717.4V730.4M926.0,1168.3V1184.9M926.0,715.6V732.2M1006.1,1170.1V1183.1M1006.1,717.4V730.4M1086.1,1168.3V1184.9M1086.1,715.6V732.2M1166.1,1170.1V1183.1M1166.1,717.4V730.4M1246.1,1168.3V1184.9M1246.1,715.6V732.2" stroke="#000" stroke-width="2.7" fill="none"/><text x="101.0" y="1186.8" text-anchor="end" font-size="29">0.0</text><text x="101.0" y="1136.5" text-anchor="end" font-size="29">0.5</text><text x="101.0" y="1086.2" text-anchor="end" font-size="29">1.0</text><text x="101.0" y="1035.9" text-anchor="end" font-size="29">1.5</text><text x="101.0" y="985.6" text-anchor="end" font-size="29">2.0</text><text x="101.0" y="935.3" text-anchor="end" font-size="29">2.5</text><text x="101.0" y="885.0" text-anchor="end" font-size="29">3.0</text><text x="101.0" y="834.7" text-anchor="end" font-size="29">3.5</text><text x="101.0" y="784.4" text-anchor="end" font-size="29">4.0</text><text x="101.0" y="734.1" text-anchor="end" font-size="29">4.5</text><text x="125.9" y="1220.5" text-anchor="middle" font-size="29">0</text><text x="285.9" y="1220.5" text-anchor="middle" font-size="29">1</text><text x="446.0" y="1220.5" text-anchor="middle" font-size="29">2</text><text x="606.0" y="1220.5" text-anchor="middle" font-size="29">3</text><text x="766.0" y="1220.5" text-anchor="middle" font-size="29">4</text><text x="926.0" y="1220.5" text-anchor="middle" font-size="29">5</text><text x="1086.1" y="1220.5" text-anchor="middle" font-size="29">6</text><text x="1246.1" y="1220.5" text-anchor="middle" font-size="29">7</text><text x="687.0" y="1265.0" text-anchor="middle" font-size="33">Time (hr)</text><text transform="translate(47.5,950.2) rotate(-90)" text-anchor="middle" font-size="33">OD<tspan font-size="22" dy="6">600</tspan></text><text x="0.5" y="726.9" font-size="39.5" font-weight="bold">(b)</text><polyline points="125.9,1149.7 137.1,1147.6 148.2,1145.4 159.4,1143.0 170.6,1140.5 181.7,1137.8 192.9,1135.0 204.1,1132.0 215.2,1128.9 226.4,1125.5 237.6,1122.0 248.7,1118.3 259.9,1114.3 271.1,1110.2 282.2,1105.9 293.4,1101.3 304.6,1096.6 315.7,1091.6 326.9,1086.4 338.1,1081.0 349.2,1075.4 360.4,1069.6 371.6,1063.5 382.7,1057.3 393.9,1050.9 405.1,1044.2 416.2,1037.4 427.4,1030.5 438.6,1023.3 449.7,1016.1 460.9,1008.7 472.1,1001.2 483.2,993.7 494.4,986.0 505.6,978.4 516.7,970.6 527.9,962.9 539.1,955.2 550.2,947.6 561.4,939.9 572.6,932.4 583.7,924.9 594.9,917.6 606.1,910.4 617.2,903.3 628.4,896.4 639.6,889.7 650.7,883.1 661.9,876.7 673.1,870.5 684.2,864.6 695.4,858.8 706.6,853.2 717.7,847.9 728.9,842.8 740.1,837.9 751.2,833.2 762.4,828.7 773.6,824.4 784.7,820.4 795.9,816.5 807.1,812.8 818.2,809.4 829.4,806.1 840.6,803.0 851.7,800.0 862.9,797.3 874.1,794.6 885.2,792.2 896.4,789.9 907.6,787.7 918.7,785.6 929.9,783.7 941.1,781.9 952.2,780.2 963.4,778.6 974.6,777.1 985.7,775.8 996.9,774.5 1008.1,773.2 1019.2,772.1 1030.4,771.0 1041.6,770.0 1052.7,769.1 1063.9,768.2 1075.1,767.4 1086.2,766.7 1097.4,766.0 1108.6,765.3 1119.7,764.7 1130.9,764.1" fill="none" stroke="#000000" stroke-width="2.8" stroke-dasharray="8.5,4"/><polyline points="125.9,1156.1 137.1,1154.4 148.3,1152.7 159.5,1150.9 170.7,1148.9 181.9,1146.9 193.1,1144.7 204.3,1142.3 215.5,1139.9 226.7,1137.3 237.9,1134.5 249.1,1131.6 260.3,1128.5 271.5,1125.3 282.7,1121.9 293.9,1118.4 305.1,1114.6 316.3,1110.8 327.5,1106.7 338.7,1102.5 349.9,1098.1 361.1,1093.5 372.3,1088.8 383.5,1083.9 394.8,1078.9 406.0,1073.7 417.2,1068.4 428.4,1063.0 439.6,1057.5 450.8,1051.9 462.0,1046.2 473.2,1040.4 484.4,1034.6 495.6,1028.7 506.8,1022.9 518.0,1017.0 529.2,1011.1 540.4,1005.3 551.6,999.4 562.8,993.7 574.0,988.0 585.2,982.4 596.4,976.9 607.6,971.6 618.8,966.3 630.0,961.2 641.2,956.2 652.4,951.4 663.6,946.7 674.8,942.2 686.0,937.9 697.2,933.7 708.4,929.7 719.6,925.8 730.8,922.2 742.0,918.7 753.2,915.3 764.4,912.1 775.6,909.1 786.8,906.3 798.0,903.5 809.2,901.0 820.4,898.6 831.6,896.3 842.8,894.1 854.0,892.1 865.2,890.2 876.4,888.4 887.6,886.7 898.8,885.1 910.0,883.6 921.2,882.2 932.5,880.9 943.7,879.7 954.9,878.5 966.1,877.5 977.3,876.5 988.5,875.6 999.7,874.7 1010.9,873.9 1022.1,873.1 1033.3,872.4 1044.5,871.7 1055.7,871.1 1066.9,870.6 1078.1,870.0 1089.3,869.5 1100.5,869.1 1111.7,868.6 1122.9,868.2 1134.1,867.9" fill="none" stroke="#ed7d31" stroke-width="2.8" stroke-dasharray="11.5,10.5"/><polyline points="125.9,1161.5 137.1,1160.6 148.3,1159.7 159.5,1158.7 170.7,1157.7 181.9,1156.7 193.1,1155.5 204.3,1154.3 215.5,1153.1 226.7,1151.7 237.9,1150.4 249.1,1148.9 260.3,1147.4 271.5,1145.8 282.7,1144.1 293.9,1142.4 305.1,1140.6 316.3,1138.7 327.5,1136.8 338.7,1134.8 349.9,1132.8 361.1,1130.7 372.3,1128.5 383.5,1126.3 394.8,1124.0 406.0,1121.7 417.2,1119.4 428.4,1117.0 439.6,1114.6 450.8,1112.2 462.0,1109.7 473.2,1107.3 484.4,1104.8 495.6,1102.4 506.8,1099.9 518.0,1097.5 529.2,1095.1 540.4,1092.8 551.6,1090.5 562.8,1088.2 574.0,1085.9 585.2,1083.7 596.4,1081.6 607.6,1079.5 618.8,1077.5 630.0,1075.6 641.2,1073.7 652.4,1071.8 663.6,1070.1 674.8,1068.4 686.0,1066.8 697.2,1065.2 708.4,1063.7 719.6,1062.3 730.8,1061.0 742.0,1059.7 753.2,1058.4 764.4,1057.3 775.6,1056.2 786.8,1055.1 798.0,1054.2 809.2,1053.2 820.4,1052.3 831.6,1051.5 842.8,1050.7 854.0,1050.0 865.2,1049.3 876.4,1048.7 887.6,1048.0 898.8,1047.5 910.0,1046.9 921.2,1046.4 932.5,1046.0 943.7,1045.5 954.9,1045.1 966.1,1044.7 977.3,1044.4 988.5,1044.0 999.7,1043.7 1010.9,1043.4 1022.1,1043.1 1033.3,1042.9 1044.5,1042.6 1055.7,1042.4 1066.9,1042.2 1078.1,1042.0 1089.3,1041.8 1100.5,1041.6 1111.7,1041.5 1122.9,1041.3 1134.1,1041.2" fill="none" stroke="#ff33cc" stroke-width="2.8" stroke-dasharray="11.7,9.6,3.3,9.6"/><polyline points="125.9,1164.6 137.1,1163.8 148.3,1163.0 159.5,1162.2 170.7,1161.4 181.9,1160.5 193.1,1159.6 204.3,1158.6 215.5,1157.6 226.7,1156.6 237.9,1155.5 249.1,1154.4 260.3,1153.3 271.5,1152.1 282.7,1150.9 293.9,1149.7 305.1,1148.4 316.3,1147.1 327.5,1145.8 338.7,1144.5 349.9,1143.2 361.1,1141.8 372.3,1140.4 383.5,1139.0 394.8,1137.6 406.0,1136.2 417.2,1134.7 428.4,1133.3 439.6,1131.9 450.8,1130.5 462.0,1129.0 473.2,1127.6 484.4,1126.2 495.6,1124.9 506.8,1123.5 518.0,1122.2 529.2,1120.8 540.4,1119.5 551.6,1118.3 562.8,1117.0 574.0,1115.8 585.2,1114.6 596.4,1113.5 607.6,1112.4 618.8,1111.3 630.0,1110.2 641.2,1109.2 652.4,1108.2 663.6,1107.3 674.8,1106.4 686.0,1105.5 697.2,1104.7 708.4,1103.8 719.6,1103.1 730.8,1102.3 742.0,1101.6 753.2,1101.0 764.4,1100.3 775.6,1099.7 786.8,1099.1 798.0,1098.6 809.2,1098.0 820.4,1097.5 831.6,1097.0 842.8,1096.6 854.0,1096.2 865.2,1095.8 876.4,1095.4 887.6,1095.0 898.8,1094.7 910.0,1094.3 921.2,1094.0 932.5,1093.7 943.7,1093.5 954.9,1093.2 966.1,1093.0 977.3,1092.7 988.5,1092.5 999.7,1092.3 1010.9,1092.1 1022.1,1091.9 1033.3,1091.8 1044.5,1091.6 1055.7,1091.5 1066.9,1091.3 1078.1,1091.2 1089.3,1091.1 1100.5,1090.9 1111.7,1090.8 1122.9,1090.7 1134.1,1090.6" fill="none" stroke="#ffc000" stroke-width="2.8" stroke-dasharray="23.5,10.3"/><polyline points="125.9,1164.4 137.0,1163.7 148.2,1163.0 159.3,1162.3 170.5,1161.6 181.6,1160.8 192.8,1160.0 203.9,1159.1 215.1,1158.2 226.2,1157.2 237.4,1156.3 248.5,1155.3 259.7,1154.2 270.8,1153.1 282.0,1152.0 293.1,1150.9 304.3,1149.8 315.4,1148.6 326.6,1147.4 337.7,1146.2 348.9,1145.0 360.0,1143.7 371.2,1142.5 382.3,1141.3 393.5,1140.0 404.6,1138.8 415.8,1137.6 426.9,1136.4 438.1,1135.2 449.2,1134.0 460.4,1132.9 471.5,1131.8 482.7,1130.7 493.8,1129.6 505.0,1128.6 516.1,1127.6 527.3,1126.7 538.4,1125.7 549.6,1124.8 560.7,1124.0 571.9,1123.2 583.0,1122.4 594.1,1121.7 605.3,1121.0 616.4,1120.3 627.6,1119.7 638.7,1119.1 649.9,1118.5 661.0,1118.0 672.2,1117.5 683.3,1117.0 694.5,1116.6 705.6,1116.2 716.8,1115.8 727.9,1115.4 739.1,1115.1 750.2,1114.8 761.4,1114.5 772.5,1114.2 783.7,1113.9 794.8,1113.7 806.0,1113.5 817.1,1113.3 828.3,1113.1 839.4,1112.9 850.6,1112.7 861.7,1112.6 872.9,1112.4 884.0,1112.3 895.2,1112.1 906.3,1112.0 917.5,1111.9 928.6,1111.8 939.8,1111.7 950.9,1111.6 962.1,1111.6 973.2,1111.5 984.4,1111.4 995.5,1111.3 1006.7,1111.3 1017.8,1111.2 1028.9,1111.2 1040.1,1111.1 1051.2,1111.1 1062.4,1111.1 1073.5,1111.0 1084.7,1111.0 1095.8,1110.9 1107.0,1110.9 1118.1,1110.9 1129.3,1110.9" fill="none" stroke="#7030a0" stroke-width="2.8" stroke-dasharray="23,10,3,10"/><polyline points="125.9,1165.1 137.1,1164.7 148.3,1164.3 159.6,1163.9 170.8,1163.5 182.0,1163.0 193.2,1162.6 204.4,1162.1 215.7,1161.5 226.9,1161.0 238.1,1160.4 249.3,1159.8 260.5,1159.2 271.8,1158.6 283.0,1158.0 294.2,1157.3 305.4,1156.6 316.6,1155.9 327.9,1155.1 339.1,1154.4 350.3,1153.6 361.5,1152.8 372.7,1152.0 384.0,1151.2 395.2,1150.3 406.4,1149.5 417.6,1148.6 428.8,1147.8 440.1,1146.9 451.3,1146.0 462.5,1145.1 473.7,1144.2 484.9,1143.3 496.2,1142.5 507.4,1141.6 518.6,1140.7 529.8,1139.9 541.0,1139.0 552.3,1138.2 563.5,1137.3 574.7,1136.5 585.9,1135.7 597.1,1134.9 608.4,1134.2 619.6,1133.4 630.8,1132.7 642.0,1132.0 653.2,1131.3 664.5,1130.7 675.7,1130.0 686.9,1129.4 698.1,1128.8 709.3,1128.2 720.6,1127.7 731.8,1127.2 743.0,1126.7 754.2,1126.2 765.4,1125.7 776.7,1125.3 787.9,1124.9 799.1,1124.4 810.3,1124.1 821.5,1123.7 832.8,1123.4 844.0,1123.0 855.2,1122.7 866.4,1122.4 877.6,1122.1 888.9,1121.9 900.1,1121.6 911.3,1121.4 922.5,1121.2 933.7,1121.0 945.0,1120.8 956.2,1120.6 967.4,1120.4 978.6,1120.2 989.8,1120.1 1001.1,1119.9 1012.3,1119.8 1023.5,1119.6 1034.7,1119.5 1045.9,1119.4 1057.2,1119.3 1068.4,1119.2 1079.6,1119.1 1090.8,1119.0 1102.0,1118.9 1113.2,1118.8 1124.5,1118.8 1135.7,1118.7" fill="none" stroke="#00b050" stroke-width="2.8" stroke-dasharray="22,10,3,10,3,10"/><path d="M125.9,1163.5V1165.5M118.3,1163.5h15.2M118.3,1165.5h15.2M205.9,1147.4V1153.5M198.3,1147.4h15.2M198.3,1153.5h15.2M285.9,1100.1V1127.3M278.3,1100.1h15.2M278.3,1127.3h15.2M365.9,1050.0V1077.8M358.3,1050.0h15.2M358.3,1077.8h15.2M446.0,980.3V1020.6M438.4,980.3h15.2M438.4,1020.6h15.2M526.0,944.2V972.4M518.4,944.2h15.2M518.4,972.4h15.2M606.0,898.9V912.0M598.4,898.9h15.2M598.4,912.0h15.2M686.0,862.7V874.2M678.4,862.7h15.2M678.4,874.2h15.2M766.0,830.2V847.9M758.4,830.2h15.2M758.4,847.9h15.2M846.0,803.7V823.0M838.4,803.7h15.2M838.4,823.0h15.2M926.0,783.0V798.6M918.4,783.0h15.2M918.4,798.6h15.2M1006.1,761.6V776.3M998.5,761.6h15.2M998.5,776.3h15.2M1086.1,747.1V765.6M1078.5,747.1h15.2M1078.5,765.6h15.2" stroke="#404040" stroke-width="2.0" fill="none"/><path d="M125.9,1156.3L134.1,1164.5L125.9,1172.7L117.7,1164.5Z" fill="#000000"/><path d="M205.9,1142.2L214.1,1150.4L205.9,1158.6L197.7,1150.4Z" fill="#000000"/><path d="M285.9,1105.5L294.1,1113.7L285.9,1121.9L277.7,1113.7Z" fill="#000000"/><path d="M365.9,1055.7L374.1,1063.9L365.9,1072.1L357.7,1063.9Z" fill="#000000"/><path d="M446.0,992.2L454.2,1000.4L446.0,1008.6L437.8,1000.4Z" fill="#000000"/><path d="M526.0,950.1L534.2,958.3L526.0,966.5L517.8,958.3Z" fill="#000000"/><path d="M606.0,897.3L614.2,905.5L606.0,913.7L597.8,905.5Z" fill="#000000"/><path d="M686.0,860.3L694.2,868.5L686.0,876.7L677.8,868.5Z" fill="#000000"/><path d="M766.0,830.9L774.2,839.1L766.0,847.3L757.8,839.1Z" fill="#000000"/><path d="M846.0,805.1L854.2,813.3L846.0,821.5L837.8,813.3Z" fill="#000000"/><path d="M926.0,782.6L934.2,790.8L926.0,799.0L917.8,790.8Z" fill="#000000"/><path d="M1006.1,760.8L1014.3,769.0L1006.1,777.2L997.9,769.0Z" fill="#000000"/><path d="M1086.1,748.2L1094.3,756.4L1086.1,764.6L1077.9,756.4Z" fill="#000000"/><path d="M125.9,1163.5V1165.5M118.3,1163.5h15.2M118.3,1165.5h15.2M205.9,1158.5V1162.5M198.3,1158.5h15.2M198.3,1162.5h15.2M285.9,1127.0V1136.3M278.3,1127.0h15.2M278.3,1136.3h15.2M365.9,1082.6V1092.1M358.3,1082.6h15.2M358.3,1092.1h15.2M446.0,1037.2V1051.5M438.4,1037.2h15.2M438.4,1051.5h15.2M526.0,996.4V1008.5M518.4,996.4h15.2M518.4,1008.5h15.2M606.0,955.6V985.8M598.4,955.6h15.2M598.4,985.8h15.2M686.0,922.3V966.1M678.4,922.3h15.2M678.4,966.1h15.2M766.0,903.5V946.7M758.4,903.5h15.2M758.4,946.7h15.2M846.0,885.6V923.8M838.4,885.6h15.2M838.4,923.8h15.2M926.0,868.8V909.0M918.4,868.8h15.2M918.4,909.0h15.2M1006.1,849.9V891.7M998.5,849.9h15.2M998.5,891.7h15.2M1086.1,841.5V881.7M1078.5,841.5h15.2M1078.5,881.7h15.2" stroke="#ed7d31" stroke-width="2.7" fill="none"/><rect x="119.9" y="1158.5" width="12.0" height="12.0" fill="#ed7d31"/><rect x="199.9" y="1154.5" width="12.0" height="12.0" fill="#ed7d31"/><rect x="279.9" y="1125.6" width="12.0" height="12.0" fill="#ed7d31"/><rect x="359.9" y="1081.4" width="12.0" height="12.0" fill="#ed7d31"/><rect x="440.0" y="1038.3" width="12.0" height="12.0" fill="#ed7d31"/><rect x="520.0" y="996.5" width="12.0" height="12.0" fill="#ed7d31"/><rect x="600.0" y="964.7" width="12.0" height="12.0" fill="#ed7d31"/><rect x="680.0" y="938.2" width="12.0" height="12.0" fill="#ed7d31"/><rect x="760.0" y="919.1" width="12.0" height="12.0" fill="#ed7d31"/><rect x="840.0" y="898.7" width="12.0" height="12.0" fill="#ed7d31"/><rect x="920.0" y="882.9" width="12.0" height="12.0" fill="#ed7d31"/><rect x="1000.1" y="864.8" width="12.0" height="12.0" fill="#ed7d31"/><rect x="1080.1" y="855.6" width="12.0" height="12.0" fill="#ed7d31"/><path d="M125.9,1163.5V1165.5M118.3,1163.5h15.2M118.3,1165.5h15.2M205.9,1153.5V1157.5M198.3,1153.5h15.2M198.3,1157.5h15.2M285.9,1140.7V1146.7M278.3,1140.7h15.2M278.3,1146.7h15.2M365.9,1124.3V1130.3M358.3,1124.3h15.2M358.3,1130.3h15.2M446.0,1112.7V1118.8M438.4,1112.7h15.2M438.4,1118.8h15.2M526.0,1094.6V1101.7M518.4,1094.6h15.2M518.4,1101.7h15.2M606.0,1076.0V1084.0M598.4,1076.0h15.2M598.4,1084.0h15.2M686.0,1056.1V1075.8M678.4,1056.1h15.2M678.4,1075.8h15.2M766.0,1042.5V1069.7M758.4,1042.5h15.2M758.4,1069.7h15.2M846.0,1036.1V1066.8M838.4,1036.1h15.2M838.4,1066.8h15.2M926.0,1031.7V1062.3M918.4,1031.7h15.2M918.4,1062.3h15.2M1006.1,1028.4V1059.6M998.5,1028.4h15.2M998.5,1059.6h15.2M1086.1,1023.8V1054.8M1078.5,1023.8h15.2M1078.5,1054.8h15.2" stroke="#ff33cc" stroke-width="2.7" fill="none"/><circle cx="125.9" cy="1164.5" r="7.8" fill="#ff33cc"/><circle cx="205.9" cy="1155.5" r="7.8" fill="#ff33cc"/><circle cx="285.9" cy="1143.7" r="7.8" fill="#ff33cc"/><circle cx="365.9" cy="1127.3" r="7.8" fill="#ff33cc"/><circle cx="446.0" cy="1115.7" r="7.8" fill="#ff33cc"/><circle cx="526.0" cy="1098.1" r="7.8" fill="#ff33cc"/><circle cx="606.0" cy="1080.0" r="7.8" fill="#ff33cc"/><circle cx="686.0" cy="1065.9" r="7.8" fill="#ff33cc"/><circle cx="766.0" cy="1056.1" r="7.8" fill="#ff33cc"/><circle cx="846.0" cy="1051.5" r="7.8" fill="#ff33cc"/><circle cx="926.0" cy="1047.0" r="7.8" fill="#ff33cc"/><circle cx="1006.1" cy="1044.0" r="7.8" fill="#ff33cc"/><circle cx="1086.1" cy="1039.3" r="7.8" fill="#ff33cc"/><path d="M125.9,1165.5V1167.5M118.3,1165.5h15.2M118.3,1167.5h15.2M205.9,1159.5V1163.5M198.3,1159.5h15.2M198.3,1163.5h15.2M285.9,1145.4V1151.5M278.3,1145.4h15.2M278.3,1151.5h15.2M365.9,1137.4V1143.4M358.3,1137.4h15.2M358.3,1143.4h15.2M446.0,1127.9V1136.0M438.4,1127.9h15.2M438.4,1136.0h15.2M526.0,1117.6V1125.7M518.4,1117.6h15.2M518.4,1125.7h15.2M606.0,1107.8V1117.8M598.4,1107.8h15.2M598.4,1117.8h15.2M686.0,1098.8V1110.9M678.4,1098.8h15.2M678.4,1110.9h15.2M766.0,1093.4V1107.5M758.4,1093.4h15.2M758.4,1107.5h15.2M846.0,1089.0V1105.1M838.4,1089.0h15.2M838.4,1105.1h15.2M926.0,1087.6V1105.7M918.4,1087.6h15.2M918.4,1105.7h15.2M1006.1,1083.5V1104.7M998.5,1083.5h15.2M998.5,1104.7h15.2M1086.1,1082.1V1101.7M1078.5,1082.1h15.2M1078.5,1101.7h15.2" stroke="#ffc000" stroke-width="2.5" fill="none"/><path d="M125.9,1158.9L133.5,1174.1L118.3,1174.1Z" fill="#ffc000" stroke="#ffc000" stroke-width="1" stroke-linejoin="round"/><path d="M205.9,1153.9L213.5,1169.1L198.3,1169.1Z" fill="#ffc000" stroke="#ffc000" stroke-width="1" stroke-linejoin="round"/><path d="M285.9,1140.8L293.5,1156.0L278.3,1156.0Z" fill="#ffc000" stroke="#ffc000" stroke-width="1" stroke-linejoin="round"/><path d="M365.9,1132.8L373.5,1148.0L358.3,1148.0Z" fill="#ffc000" stroke="#ffc000" stroke-width="1" stroke-linejoin="round"/><path d="M446.0,1124.3L453.6,1139.5L438.4,1139.5Z" fill="#ffc000" stroke="#ffc000" stroke-width="1" stroke-linejoin="round"/><path d="M526.0,1114.1L533.6,1129.3L518.4,1129.3Z" fill="#ffc000" stroke="#ffc000" stroke-width="1" stroke-linejoin="round"/><path d="M606.0,1105.2L613.6,1120.4L598.4,1120.4Z" fill="#ffc000" stroke="#ffc000" stroke-width="1" stroke-linejoin="round"/><path d="M686.0,1097.3L693.6,1112.5L678.4,1112.5Z" fill="#ffc000" stroke="#ffc000" stroke-width="1" stroke-linejoin="round"/><path d="M766.0,1092.8L773.6,1108.0L758.4,1108.0Z" fill="#ffc000" stroke="#ffc000" stroke-width="1" stroke-linejoin="round"/><path d="M846.0,1089.4L853.6,1104.6L838.4,1104.6Z" fill="#ffc000" stroke="#ffc000" stroke-width="1" stroke-linejoin="round"/><path d="M926.0,1089.0L933.6,1104.2L918.4,1104.2Z" fill="#ffc000" stroke="#ffc000" stroke-width="1" stroke-linejoin="round"/><path d="M1006.1,1086.5L1013.7,1101.7L998.5,1101.7Z" fill="#ffc000" stroke="#ffc000" stroke-width="1" stroke-linejoin="round"/><path d="M1086.1,1084.3L1093.7,1099.5L1078.5,1099.5Z" fill="#ffc000" stroke="#ffc000" stroke-width="1" stroke-linejoin="round"/><path d="M125.9,1163.5V1165.5M118.3,1163.5h15.2M118.3,1165.5h15.2M205.9,1157.5V1161.5M198.3,1157.5h15.2M198.3,1161.5h15.2M285.9,1147.4V1151.4M278.3,1147.4h15.2M278.3,1151.4h15.2M365.9,1140.3V1146.3M358.3,1140.3h15.2M358.3,1146.3h15.2M446.0,1131.3V1137.4M438.4,1131.3h15.2M438.4,1137.4h15.2M526.0,1124.5V1132.5M518.4,1124.5h15.2M518.4,1132.5h15.2M606.0,1116.6V1124.7M598.4,1116.6h15.2M598.4,1124.7h15.2M686.0,1111.2V1121.3M678.4,1111.2h15.2M678.4,1121.3h15.2M766.0,1109.0V1119.1M758.4,1109.0h15.2M758.4,1119.1h15.2M846.0,1107.5V1119.6M838.4,1107.5h15.2M838.4,1119.6h15.2M926.0,1104.1V1118.2M918.4,1104.1h15.2M918.4,1118.2h15.2M1006.1,1103.1V1119.2M998.5,1103.1h15.2M998.5,1119.2h15.2M1086.1,1099.8V1124.0M1078.5,1099.8h15.2M1078.5,1124.0h15.2" stroke="#7030a0" stroke-width="2.3" fill="none"/><path d="M119.6,1158.2L132.2,1170.8M132.2,1158.2L119.6,1170.8" stroke="#7030a0" stroke-width="2.7" fill="none"/><path d="M199.6,1153.2L212.2,1165.8M212.2,1153.2L199.6,1165.8" stroke="#7030a0" stroke-width="2.7" fill="none"/><path d="M279.6,1143.1L292.2,1155.7M292.2,1143.1L279.6,1155.7" stroke="#7030a0" stroke-width="2.7" fill="none"/><path d="M359.6,1137.0L372.2,1149.6M372.2,1137.0L359.6,1149.6" stroke="#7030a0" stroke-width="2.7" fill="none"/><path d="M439.7,1128.0L452.3,1140.6M452.3,1128.0L439.7,1140.6" stroke="#7030a0" stroke-width="2.7" fill="none"/><path d="M519.7,1122.2L532.3,1134.8M532.3,1122.2L519.7,1134.8" stroke="#7030a0" stroke-width="2.7" fill="none"/><path d="M599.7,1114.4L612.3,1127.0M612.3,1114.4L599.7,1127.0" stroke="#7030a0" stroke-width="2.7" fill="none"/><path d="M679.7,1109.9L692.3,1122.5M692.3,1109.9L679.7,1122.5" stroke="#7030a0" stroke-width="2.7" fill="none"/><path d="M759.7,1107.7L772.3,1120.3M772.3,1107.7L759.7,1120.3" stroke="#7030a0" stroke-width="2.7" fill="none"/><path d="M839.7,1107.2L852.3,1119.8M852.3,1107.2L839.7,1119.8" stroke="#7030a0" stroke-width="2.7" fill="none"/><path d="M919.8,1104.8L932.3,1117.4M932.3,1104.8L919.8,1117.4" stroke="#7030a0" stroke-width="2.7" fill="none"/><path d="M999.8,1104.8L1012.4,1117.4M1012.4,1104.8L999.8,1117.4" stroke="#7030a0" stroke-width="2.7" fill="none"/><path d="M1079.8,1105.6L1092.4,1118.2M1092.4,1105.6L1079.8,1118.2" stroke="#7030a0" stroke-width="2.7" fill="none"/><path d="M125.9,1163.9V1165.9M118.3,1163.9h15.2M118.3,1165.9h15.2M205.9,1161.9V1163.9M198.3,1161.9h15.2M198.3,1163.9h15.2M285.9,1156.8V1158.8M278.3,1156.8h15.2M278.3,1158.8h15.2M365.9,1149.2V1153.3M358.3,1149.2h15.2M358.3,1153.3h15.2M446.0,1143.7V1147.7M438.4,1143.7h15.2M438.4,1147.7h15.2M526.0,1137.4V1141.4M518.4,1137.4h15.2M518.4,1141.4h15.2M606.0,1133.3V1137.4M598.4,1133.3h15.2M598.4,1137.4h15.2M686.0,1127.9V1131.9M678.4,1127.9h15.2M678.4,1131.9h15.2M766.0,1123.3V1127.3M758.4,1123.3h15.2M758.4,1127.3h15.2M846.0,1120.8V1124.8M838.4,1120.8h15.2M838.4,1124.8h15.2M926.0,1118.8V1122.8M918.4,1118.8h15.2M918.4,1122.8h15.2M1006.1,1117.7V1121.8M998.5,1117.7h15.2M998.5,1121.8h15.2M1086.1,1119.3V1123.3M1078.5,1119.3h15.2M1078.5,1123.3h15.2" stroke="#00b050" stroke-width="2.0" fill="none"/><rect x="118.3" y="1161.3" width="15.2" height="7.2" rx="1.5" fill="#00b050"/><rect x="198.3" y="1159.3" width="15.2" height="7.2" rx="1.5" fill="#00b050"/><rect x="278.3" y="1154.2" width="15.2" height="7.2" rx="1.5" fill="#00b050"/><rect x="358.3" y="1147.6" width="15.2" height="7.2" rx="1.5" fill="#00b050"/><rect x="438.4" y="1142.1" width="15.2" height="7.2" rx="1.5" fill="#00b050"/><rect x="518.4" y="1135.8" width="15.2" height="7.2" rx="1.5" fill="#00b050"/><rect x="598.4" y="1131.8" width="15.2" height="7.2" rx="1.5" fill="#00b050"/><rect x="678.4" y="1126.3" width="15.2" height="7.2" rx="1.5" fill="#00b050"/><rect x="758.4" y="1121.7" width="15.2" height="7.2" rx="1.5" fill="#00b050"/><rect x="838.4" y="1119.2" width="15.2" height="7.2" rx="1.5" fill="#00b050"/><rect x="918.4" y="1117.2" width="15.2" height="7.2" rx="1.5" fill="#00b050"/><rect x="998.5" y="1116.2" width="15.2" height="7.2" rx="1.5" fill="#00b050"/><rect x="1078.5" y="1117.7" width="15.2" height="7.2" rx="1.5" fill="#00b050"/><rect x="1294.9" y="847.3" width="197.4" height="309.9" fill="#fff" stroke="#000" stroke-width="2.9"/><path d="M1327.8,864.9L1336.0,873.1L1327.8,881.3L1319.6,873.1Z" fill="#000000"/><text x="1342.3" y="882.6" font-size="29">OS 40,000</text><rect x="1321.8" y="918.5" width="12.0" height="12.0" fill="#ed7d31"/><text x="1342.3" y="934.0" font-size="29">OS 24,000</text><circle cx="1327.8" cy="975.8" r="7.8" fill="#ff33cc"/><text x="1342.3" y="985.3" font-size="29">OS 12,000</text><path d="M1327.8,1019.6L1335.4,1034.8L1320.2,1034.8Z" fill="#ffc000" stroke="#ffc000" stroke-width="1" stroke-linejoin="round"/><text x="1342.3" y="1036.7" font-size="29">OS 8,000</text><path d="M1321.5,1072.2L1334.1,1084.8M1334.1,1072.2L1321.5,1084.8" stroke="#7030a0" stroke-width="2.7" fill="none"/><text x="1342.3" y="1088.0" font-size="29">OS 4,000</text><rect x="1320.2" y="1126.3" width="15.2" height="7.2" rx="1.5" fill="#00b050"/><text x="1342.3" y="1139.4" font-size="29">Static</text><rect x="125.8" y="1321.5" width="1123.5" height="452.2" fill="none" stroke="#000" stroke-width="2.7"/><path d="M117.5,1773.8H134.1M1241.0,1773.8H1257.6M119.3,1748.7H132.3M1242.8,1748.7H1255.8M117.5,1723.5H134.1M1241.0,1723.5H1257.6M119.3,1698.4H132.3M1242.8,1698.4H1255.8M117.5,1673.3H134.1M1241.0,1673.3H1257.6M119.3,1648.2H132.3M1242.8,1648.2H1255.8M117.5,1623.0H134.1M1241.0,1623.0H1257.6M119.3,1597.9H132.3M1242.8,1597.9H1255.8M117.5,1572.8H134.1M1241.0,1572.8H1257.6M119.3,1547.7H132.3M1242.8,1547.7H1255.8M117.5,1522.5H134.1M1241.0,1522.5H1257.6M119.3,1497.4H132.3M1242.8,1497.4H1255.8M117.5,1472.3H134.1M1241.0,1472.3H1257.6M119.3,1447.2H132.3M1242.8,1447.2H1255.8M117.5,1422.0H134.1M1241.0,1422.0H1257.6M119.3,1396.9H132.3M1242.8,1396.9H1255.8M117.5,1371.8H134.1M1241.0,1371.8H1257.6M119.3,1346.7H132.3M1242.8,1346.7H1255.8M117.5,1321.5H134.1M1241.0,1321.5H1257.6M125.8,1765.5V1782.1M125.8,1313.2V1329.8M206.1,1767.3V1780.3M206.1,1315.0V1328.0M286.3,1765.5V1782.1M286.3,1313.2V1329.8M366.6,1767.3V1780.3M366.6,1315.0V1328.0M446.8,1765.5V1782.1M446.8,1313.2V1329.8M527.0,1767.3V1780.3M527.0,1315.0V1328.0M607.3,1765.5V1782.1M607.3,1313.2V1329.8M687.5,1767.3V1780.3M687.5,1315.0V1328.0M767.8,1765.5V1782.1M767.8,1313.2V1329.8M848.0,1767.3V1780.3M848.0,1315.0V1328.0M928.3,1765.5V1782.1M928.3,1313.2V1329.8M1008.5,1767.3V1780.3M1008.5,1315.0V1328.0M1088.8,1765.5V1782.1M1088.8,1313.2V1329.8M1169.0,1767.3V1780.3M1169.0,1315.0V1328.0M1249.3,1765.5V1782.1M1249.3,1313.2V1329.8" stroke="#000" stroke-width="2.7" fill="none"/><text x="101.0" y="1784.0" text-anchor="end" font-size="29">0.0</text><text x="101.0" y="1733.8" text-anchor="end" font-size="29">0.5</text><text x="101.0" y="1683.5" text-anchor="end" font-size="29">1.0</text><text x="101.0" y="1633.2" text-anchor="end" font-size="29">1.5</text><text x="101.0" y="1583.0" text-anchor="end" font-size="29">2.0</text><text x="101.0" y="1532.8" text-anchor="end" font-size="29">2.5</text><text x="101.0" y="1482.5" text-anchor="end" font-size="29">3.0</text><text x="101.0" y="1432.2" text-anchor="end" font-size="29">3.5</text><text x="101.0" y="1382.0" text-anchor="end" font-size="29">4.0</text><text x="101.0" y="1331.8" text-anchor="end" font-size="29">4.5</text><text x="125.8" y="1817.5" text-anchor="middle" font-size="29">0</text><text x="286.3" y="1817.5" text-anchor="middle" font-size="29">1</text><text x="446.8" y="1817.5" text-anchor="middle" font-size="29">2</text><text x="607.3" y="1817.5" text-anchor="middle" font-size="29">3</text><text x="767.8" y="1817.5" text-anchor="middle" font-size="29">4</text><text x="928.3" y="1817.5" text-anchor="middle" font-size="29">5</text><text x="1088.8" y="1817.5" text-anchor="middle" font-size="29">6</text><text x="1249.3" y="1817.5" text-anchor="middle" font-size="29">7</text><text x="688.5" y="1863.0" text-anchor="middle" font-size="33">Time (hr)</text><text transform="translate(47.5,1547.7) rotate(-90)" text-anchor="middle" font-size="33">OD<tspan font-size="22" dy="6">600</tspan></text><text x="0.5" y="1323.9" font-size="39.5" font-weight="bold">(c)</text><polyline points="125.8,1762.0 137.0,1761.4 148.2,1760.7 159.4,1760.0 170.6,1759.3 181.8,1758.6 193.0,1757.8 204.2,1757.0 215.4,1756.1 226.6,1755.2 237.8,1754.3 249.0,1753.3 260.2,1752.3 271.4,1751.3 282.6,1750.1 293.8,1749.0 305.0,1747.8 316.2,1746.5 327.4,1745.2 338.6,1743.8 349.8,1742.4 361.0,1740.9 372.2,1739.4 383.4,1737.7 394.6,1736.1 405.8,1734.3 417.0,1732.5 428.2,1730.6 439.4,1728.7 450.6,1726.7 461.8,1724.6 473.0,1722.4 484.2,1720.2 495.4,1717.8 506.6,1715.4 517.8,1713.0 529.0,1710.4 540.2,1707.7 551.4,1705.0 562.6,1702.2 573.8,1699.3 585.0,1696.4 596.2,1693.3 607.4,1690.2 618.6,1687.0 629.8,1683.7 641.0,1680.3 652.2,1676.9 663.4,1673.4 674.6,1669.8 685.8,1666.2 697.0,1662.5 708.2,1658.7 719.4,1654.9 730.6,1651.0 741.8,1647.0 753.0,1643.0 764.2,1639.0 775.4,1634.9 786.6,1630.8 797.8,1626.7 809.0,1622.5 820.2,1618.4 831.4,1614.2 842.6,1610.0 853.8,1605.8 865.0,1601.5 876.2,1597.3 887.4,1593.2 898.6,1589.0 909.8,1584.8 921.0,1580.7 932.2,1576.6 943.4,1572.6 954.6,1568.5 965.8,1564.6 976.9,1560.7 988.1,1556.8 999.3,1553.0 1010.5,1549.2 1021.7,1545.5 1032.9,1541.9 1044.1,1538.4 1055.3,1534.9 1066.5,1531.5 1077.7,1528.2 1088.9,1524.9 1100.1,1521.7 1111.3,1518.6 1122.5,1515.6 1133.7,1512.7" fill="none" stroke="#ff0000" stroke-width="3.2" stroke-dasharray="8.5,4"/><polyline points="125.8,1764.3 137.0,1763.9 148.3,1763.4 159.5,1762.9 170.7,1762.4 182.0,1761.8 193.2,1761.2 204.4,1760.6 215.7,1760.0 226.9,1759.3 238.1,1758.6 249.4,1757.9 260.6,1757.1 271.9,1756.3 283.1,1755.5 294.3,1754.6 305.6,1753.7 316.8,1752.7 328.0,1751.7 339.3,1750.7 350.5,1749.6 361.7,1748.5 373.0,1747.3 384.2,1746.0 395.4,1744.8 406.7,1743.4 417.9,1742.0 429.1,1740.6 440.4,1739.1 451.6,1737.6 462.9,1736.0 474.1,1734.3 485.3,1732.6 496.6,1730.8 507.8,1728.9 519.0,1727.0 530.3,1725.1 541.5,1723.0 552.7,1721.0 564.0,1718.8 575.2,1716.6 586.4,1714.3 597.7,1712.0 608.9,1709.6 620.1,1707.1 631.4,1704.6 642.6,1702.0 653.8,1699.4 665.1,1696.8 676.3,1694.0 687.5,1691.3 698.8,1688.4 710.0,1685.6 721.3,1682.7 732.5,1679.8 743.7,1676.8 755.0,1673.8 766.2,1670.8 777.4,1667.7 788.7,1664.7 799.9,1661.6 811.1,1658.5 822.4,1655.4 833.6,1652.3 844.8,1649.2 856.1,1646.2 867.3,1643.1 878.5,1640.0 889.8,1637.0 901.0,1634.0 912.2,1631.0 923.5,1628.0 934.7,1625.1 946.0,1622.2 957.2,1619.4 968.4,1616.6 979.7,1613.8 990.9,1611.1 1002.1,1608.5 1013.4,1605.9 1024.6,1603.3 1035.8,1600.8 1047.1,1598.4 1058.3,1596.0 1069.5,1593.7 1080.8,1591.4 1092.0,1589.2 1103.2,1587.1 1114.5,1585.0 1125.7,1583.0 1137.0,1581.1" fill="none" stroke="#a5a5a5" stroke-width="2.8" stroke-dasharray="11.5,10.5"/><polyline points="125.8,1764.0 137.0,1763.4 148.3,1762.8 159.5,1762.2 170.7,1761.6 182.0,1760.9 193.2,1760.3 204.4,1759.6 215.7,1758.9 226.9,1758.2 238.1,1757.4 249.4,1756.7 260.6,1755.9 271.9,1755.1 283.1,1754.2 294.3,1753.4 305.6,1752.5 316.8,1751.6 328.0,1750.7 339.3,1749.8 350.5,1748.8 361.7,1747.9 373.0,1746.9 384.2,1745.8 395.4,1744.8 406.7,1743.7 417.9,1742.6 429.1,1741.5 440.4,1740.4 451.6,1739.2 462.9,1738.0 474.1,1736.8 485.3,1735.6 496.6,1734.3 507.8,1733.0 519.0,1731.7 530.3,1730.4 541.5,1729.0 552.7,1727.7 564.0,1726.3 575.2,1724.9 586.4,1723.5 597.7,1722.0 608.9,1720.5 620.1,1719.0 631.4,1717.5 642.6,1716.0 653.8,1714.5 665.1,1712.9 676.3,1711.4 687.5,1709.8 698.8,1708.2 710.0,1706.6 721.3,1705.0 732.5,1703.3 743.7,1701.7 755.0,1700.0 766.2,1698.4 777.4,1696.7 788.7,1695.0 799.9,1693.4 811.1,1691.7 822.4,1690.0 833.6,1688.3 844.8,1686.7 856.1,1685.0 867.3,1683.3 878.5,1681.6 889.8,1680.0 901.0,1678.3 912.2,1676.6 923.5,1675.0 934.7,1673.3 946.0,1671.7 957.2,1670.1 968.4,1668.5 979.7,1666.9 990.9,1665.3 1002.1,1663.7 1013.4,1662.2 1024.6,1660.6 1035.8,1659.1 1047.1,1657.6 1058.3,1656.1 1069.5,1654.6 1080.8,1653.2 1092.0,1651.7 1103.2,1650.3 1114.5,1648.9 1125.7,1647.6 1137.0,1646.2" fill="none" stroke="#5b9bd5" stroke-width="2.8" stroke-dasharray="11.7,9.6,3.3,9.6"/><polyline points="125.8,1763.9 137.0,1763.3 148.3,1762.7 159.5,1762.2 170.7,1761.5 182.0,1760.9 193.2,1760.3 204.4,1759.6 215.7,1759.0 226.9,1758.3 238.1,1757.6 249.4,1756.9 260.6,1756.2 271.9,1755.4 283.1,1754.7 294.3,1753.9 305.6,1753.1 316.8,1752.3 328.0,1751.5 339.3,1750.7 350.5,1749.9 361.7,1749.0 373.0,1748.2 384.2,1747.3 395.4,1746.4 406.7,1745.5 417.9,1744.6 429.1,1743.6 440.4,1742.7 451.6,1741.7 462.9,1740.8 474.1,1739.8 485.3,1738.8 496.6,1737.8 507.8,1736.8 519.0,1735.8 530.3,1734.7 541.5,1733.7 552.7,1732.6 564.0,1731.6 575.2,1730.5 586.4,1729.4 597.7,1728.3 608.9,1727.2 620.1,1726.1 631.4,1725.0 642.6,1723.9 653.8,1722.8 665.1,1721.7 676.3,1720.6 687.5,1719.4 698.8,1718.3 710.0,1717.2 721.3,1716.0 732.5,1714.9 743.7,1713.8 755.0,1712.6 766.2,1711.5 777.4,1710.4 788.7,1709.3 799.9,1708.1 811.1,1707.0 822.4,1705.9 833.6,1704.8 844.8,1703.7 856.1,1702.6 867.3,1701.5 878.5,1700.4 889.8,1699.3 901.0,1698.3 912.2,1697.2 923.5,1696.2 934.7,1695.1 946.0,1694.1 957.2,1693.1 968.4,1692.0 979.7,1691.0 990.9,1690.1 1002.1,1689.1 1013.4,1688.1 1024.6,1687.2 1035.8,1686.2 1047.1,1685.3 1058.3,1684.4 1069.5,1683.5 1080.8,1682.6 1092.0,1681.7 1103.2,1680.8 1114.5,1680.0 1125.7,1679.2 1137.0,1678.3" fill="none" stroke="#70ad47" stroke-width="2.8" stroke-dasharray="23.5,10.3"/><polyline points="125.8,1763.0 136.9,1762.6 148.1,1762.2 159.2,1761.8 170.4,1761.4 181.5,1760.9 192.7,1760.5 203.8,1760.0 215.0,1759.5 226.1,1759.0 237.3,1758.5 248.4,1757.9 259.6,1757.3 270.7,1756.8 281.8,1756.2 293.0,1755.6 304.1,1754.9 315.3,1754.3 326.4,1753.6 337.6,1752.9 348.7,1752.2 359.9,1751.5 371.0,1750.8 382.2,1750.0 393.3,1749.2 404.4,1748.4 415.6,1747.6 426.7,1746.8 437.9,1746.0 449.0,1745.1 460.2,1744.3 471.3,1743.4 482.5,1742.5 493.6,1741.6 504.8,1740.7 515.9,1739.8 527.0,1738.9 538.2,1737.9 549.3,1737.0 560.5,1736.0 571.6,1735.1 582.8,1734.1 593.9,1733.2 605.1,1732.2 616.2,1731.2 627.4,1730.3 638.5,1729.3 649.7,1728.4 660.8,1727.4 671.9,1726.5 683.1,1725.5 694.2,1724.6 705.4,1723.6 716.5,1722.7 727.7,1721.8 738.8,1720.9 750.0,1720.0 761.1,1719.2 772.3,1718.3 783.4,1717.4 794.5,1716.6 805.7,1715.8 816.8,1715.0 828.0,1714.2 839.1,1713.4 850.3,1712.7 861.4,1711.9 872.6,1711.2 883.7,1710.5 894.9,1709.8 906.0,1709.2 917.2,1708.5 928.3,1707.9 939.4,1707.3 950.6,1706.7 961.7,1706.1 972.9,1705.5 984.0,1705.0 995.2,1704.4 1006.3,1703.9 1017.5,1703.4 1028.6,1703.0 1039.8,1702.5 1050.9,1702.1 1062.0,1701.6 1073.2,1701.2 1084.3,1700.8 1095.5,1700.4 1106.6,1700.1 1117.8,1699.7 1128.9,1699.3" fill="none" stroke="#0000ff" stroke-width="2.8" stroke-dasharray="23,10,3,10"/><polyline points="125.8,1762.3 137.1,1761.9 148.3,1761.6 159.6,1761.1 170.8,1760.7 182.1,1760.2 193.3,1759.8 204.6,1759.3 215.8,1758.8 227.1,1758.2 238.3,1757.7 249.6,1757.1 260.8,1756.5 272.1,1755.8 283.3,1755.2 294.6,1754.5 305.8,1753.8 317.1,1753.1 328.4,1752.3 339.6,1751.6 350.9,1750.8 362.1,1750.0 373.4,1749.2 384.6,1748.4 395.9,1747.6 407.1,1746.7 418.4,1745.8 429.6,1745.0 440.9,1744.1 452.1,1743.2 463.4,1742.3 474.6,1741.5 485.9,1740.6 497.1,1739.7 508.4,1738.8 519.6,1738.0 530.9,1737.1 542.2,1736.2 553.4,1735.4 564.7,1734.6 575.9,1733.8 587.2,1733.0 598.4,1732.2 609.7,1731.4 620.9,1730.7 632.2,1730.0 643.4,1729.2 654.7,1728.6 665.9,1727.9 677.2,1727.3 688.4,1726.7 699.7,1726.1 710.9,1725.5 722.2,1724.9 733.5,1724.4 744.7,1723.9 756.0,1723.4 767.2,1723.0 778.5,1722.5 789.7,1722.1 801.0,1721.7 812.2,1721.3 823.5,1721.0 834.7,1720.6 846.0,1720.3 857.2,1720.0 868.5,1719.7 879.7,1719.4 891.0,1719.1 902.2,1718.9 913.5,1718.6 924.8,1718.4 936.0,1718.2 947.3,1718.0 958.5,1717.8 969.8,1717.6 981.0,1717.5 992.3,1717.3 1003.5,1717.2 1014.8,1717.0 1026.0,1716.9 1037.3,1716.8 1048.5,1716.7 1059.8,1716.6 1071.0,1716.4 1082.3,1716.4 1093.5,1716.3 1104.8,1716.2 1116.0,1716.1 1127.3,1716.0 1138.6,1716.0" fill="none" stroke="#00b050" stroke-width="2.8" stroke-dasharray="22,10,3,10,3,10"/><path d="M125.8,1760.7V1762.7M118.2,1760.7h15.2M118.2,1762.7h15.2M206.1,1753.7V1757.7M198.5,1753.7h15.2M198.5,1757.7h15.2M286.3,1749.3V1753.3M278.7,1749.3h15.2M278.7,1753.3h15.2M366.6,1738.1V1744.2M358.9,1738.1h15.2M358.9,1744.2h15.2M446.8,1722.9V1731.0M439.2,1722.9h15.2M439.2,1731.0h15.2M527.0,1705.3V1715.3M519.4,1705.3h15.2M519.4,1715.3h15.2M607.3,1682.0V1694.1M599.7,1682.0h15.2M599.7,1694.1h15.2M687.5,1655.0V1669.1M679.9,1655.0h15.2M679.9,1669.1h15.2M767.8,1623.0V1638.1M760.2,1623.0h15.2M760.2,1638.1h15.2M848.0,1597.3V1616.4M840.4,1597.3h15.2M840.4,1616.4h15.2M928.3,1568.1V1590.2M920.7,1568.1h15.2M920.7,1590.2h15.2M1008.5,1535.1V1560.2M1000.9,1535.1h15.2M1000.9,1560.2h15.2M1088.8,1510.5V1534.6M1081.2,1510.5h15.2M1081.2,1534.6h15.2" stroke="#ff0000" stroke-width="3.0" fill="none"/><path d="M125.8,1755.3L132.2,1761.7L125.8,1768.1L119.4,1761.7Z" fill="none" stroke="#ff0000" stroke-width="3"/><path d="M206.1,1749.3L212.5,1755.7L206.1,1762.1L199.7,1755.7Z" fill="none" stroke="#ff0000" stroke-width="3"/><path d="M286.3,1744.9L292.7,1751.3L286.3,1757.7L279.9,1751.3Z" fill="none" stroke="#ff0000" stroke-width="3"/><path d="M366.6,1734.7L372.9,1741.1L366.6,1747.5L360.2,1741.1Z" fill="none" stroke="#ff0000" stroke-width="3"/><path d="M446.8,1720.6L453.2,1727.0L446.8,1733.4L440.4,1727.0Z" fill="none" stroke="#ff0000" stroke-width="3"/><path d="M527.0,1703.9L533.4,1710.3L527.0,1716.7L520.6,1710.3Z" fill="none" stroke="#ff0000" stroke-width="3"/><path d="M607.3,1681.7L613.7,1688.1L607.3,1694.5L600.9,1688.1Z" fill="none" stroke="#ff0000" stroke-width="3"/><path d="M687.5,1655.6L693.9,1662.0L687.5,1668.4L681.1,1662.0Z" fill="none" stroke="#ff0000" stroke-width="3"/><path d="M767.8,1624.2L774.2,1630.6L767.8,1637.0L761.4,1630.6Z" fill="none" stroke="#ff0000" stroke-width="3"/><path d="M848.0,1600.5L854.4,1606.9L848.0,1613.3L841.6,1606.9Z" fill="none" stroke="#ff0000" stroke-width="3"/><path d="M928.3,1572.7L934.7,1579.1L928.3,1585.5L921.9,1579.1Z" fill="none" stroke="#ff0000" stroke-width="3"/><path d="M1008.5,1541.3L1014.9,1547.7L1008.5,1554.1L1002.1,1547.7Z" fill="none" stroke="#ff0000" stroke-width="3"/><path d="M1088.8,1516.1L1095.2,1522.5L1088.8,1529.0L1082.4,1522.5Z" fill="none" stroke="#ff0000" stroke-width="3"/><path d="M125.8,1760.7V1762.7M118.2,1760.7h15.2M118.2,1762.7h15.2M206.1,1757.7V1761.7M198.5,1757.7h15.2M198.5,1761.7h15.2M286.3,1751.7V1755.7M278.7,1751.7h15.2M278.7,1755.7h15.2M366.6,1744.7V1750.7M358.9,1744.7h15.2M358.9,1750.7h15.2M446.8,1735.6V1741.6M439.2,1735.6h15.2M439.2,1741.6h15.2M527.0,1722.6V1730.7M519.4,1722.6h15.2M519.4,1730.7h15.2M607.3,1701.4V1711.5M599.7,1701.4h15.2M599.7,1711.5h15.2M687.5,1680.5V1692.6M679.9,1680.5h15.2M679.9,1692.6h15.2M767.8,1662.5V1672.6M760.2,1662.5h15.2M760.2,1672.6h15.2M848.0,1641.8V1655.9M840.4,1641.8h15.2M840.4,1655.9h15.2M928.3,1622.9V1637.0M920.7,1622.9h15.2M920.7,1637.0h15.2M1008.5,1600.2V1616.3M1000.9,1600.2h15.2M1000.9,1616.3h15.2M1088.8,1578.1V1598.2M1081.2,1578.1h15.2M1081.2,1598.2h15.2" stroke="#a5a5a5" stroke-width="2.6" fill="none"/><rect x="119.6" y="1755.5" width="12.4" height="12.4" fill="none" stroke="#a5a5a5" stroke-width="2.7"/><rect x="199.9" y="1753.5" width="12.4" height="12.4" fill="none" stroke="#a5a5a5" stroke-width="2.7"/><rect x="280.1" y="1747.5" width="12.4" height="12.4" fill="none" stroke="#a5a5a5" stroke-width="2.7"/><rect x="360.4" y="1741.5" width="12.4" height="12.4" fill="none" stroke="#a5a5a5" stroke-width="2.7"/><rect x="440.6" y="1732.4" width="12.4" height="12.4" fill="none" stroke="#a5a5a5" stroke-width="2.7"/><rect x="520.8" y="1720.5" width="12.4" height="12.4" fill="none" stroke="#a5a5a5" stroke-width="2.7"/><rect x="601.1" y="1700.3" width="12.4" height="12.4" fill="none" stroke="#a5a5a5" stroke-width="2.7"/><rect x="681.3" y="1680.4" width="12.4" height="12.4" fill="none" stroke="#a5a5a5" stroke-width="2.7"/><rect x="761.6" y="1661.4" width="12.4" height="12.4" fill="none" stroke="#a5a5a5" stroke-width="2.7"/><rect x="841.8" y="1642.7" width="12.4" height="12.4" fill="none" stroke="#a5a5a5" stroke-width="2.7"/><rect x="922.1" y="1623.8" width="12.4" height="12.4" fill="none" stroke="#a5a5a5" stroke-width="2.7"/><rect x="1002.3" y="1602.1" width="12.4" height="12.4" fill="none" stroke="#a5a5a5" stroke-width="2.7"/><rect x="1082.6" y="1582.0" width="12.4" height="12.4" fill="none" stroke="#a5a5a5" stroke-width="2.7"/><path d="M125.8,1760.7V1762.7M118.2,1760.7h15.2M118.2,1762.7h15.2M206.1,1757.7V1761.7M198.5,1757.7h15.2M198.5,1761.7h15.2M286.3,1751.7V1755.7M278.7,1751.7h15.2M278.7,1755.7h15.2M366.6,1744.7V1750.7M358.9,1744.7h15.2M358.9,1750.7h15.2M446.8,1737.6V1743.7M439.2,1737.6h15.2M439.2,1743.7h15.2M527.0,1722.6V1730.7M519.4,1722.6h15.2M519.4,1730.7h15.2M607.3,1712.6V1722.6M599.7,1712.6h15.2M599.7,1722.6h15.2M687.5,1703.7V1715.7M679.9,1703.7h15.2M679.9,1715.7h15.2M767.8,1692.6V1704.7M760.2,1692.6h15.2M760.2,1704.7h15.2M848.0,1679.7V1693.8M840.4,1679.7h15.2M840.4,1693.8h15.2M928.3,1667.0V1682.6M920.7,1667.0h15.2M920.7,1682.6h15.2M1008.5,1650.7V1675.2M1000.9,1650.7h15.2M1000.9,1675.2h15.2M1088.8,1636.4V1665.4M1081.2,1636.4h15.2M1081.2,1665.4h15.2" stroke="#5b9bd5" stroke-width="2.6" fill="none"/><circle cx="125.8" cy="1761.7" r="6.1" fill="none" stroke="#5b9bd5" stroke-width="2.6"/><circle cx="206.1" cy="1759.7" r="6.1" fill="none" stroke="#5b9bd5" stroke-width="2.6"/><circle cx="286.3" cy="1753.7" r="6.1" fill="none" stroke="#5b9bd5" stroke-width="2.6"/><circle cx="366.6" cy="1747.7" r="6.1" fill="none" stroke="#5b9bd5" stroke-width="2.6"/><circle cx="446.8" cy="1740.6" r="6.1" fill="none" stroke="#5b9bd5" stroke-width="2.6"/><circle cx="527.0" cy="1726.7" r="6.1" fill="none" stroke="#5b9bd5" stroke-width="2.6"/><circle cx="607.3" cy="1717.6" r="6.1" fill="none" stroke="#5b9bd5" stroke-width="2.6"/><circle cx="687.5" cy="1709.7" r="6.1" fill="none" stroke="#5b9bd5" stroke-width="2.6"/><circle cx="767.8" cy="1698.6" r="6.1" fill="none" stroke="#5b9bd5" stroke-width="2.6"/><circle cx="848.0" cy="1686.8" r="6.1" fill="none" stroke="#5b9bd5" stroke-width="2.6"/><circle cx="928.3" cy="1674.8" r="6.1" fill="none" stroke="#5b9bd5" stroke-width="2.6"/><circle cx="1008.5" cy="1662.9" r="6.1" fill="none" stroke="#5b9bd5" stroke-width="2.6"/><circle cx="1088.8" cy="1650.9" r="6.1" fill="none" stroke="#5b9bd5" stroke-width="2.6"/><path d="M125.8,1762.7V1764.8M118.2,1762.7h15.2M118.2,1764.8h15.2M206.1,1759.7V1763.8M198.5,1759.7h15.2M198.5,1763.8h15.2M286.3,1753.7V1757.7M278.7,1753.7h15.2M278.7,1757.7h15.2M366.6,1747.7V1753.7M358.9,1747.7h15.2M358.9,1753.7h15.2M446.8,1740.6V1746.7M439.2,1740.6h15.2M439.2,1746.7h15.2M527.0,1732.6V1740.6M519.4,1732.6h15.2M519.4,1740.6h15.2M607.3,1723.5V1733.6M599.7,1723.5h15.2M599.7,1733.6h15.2M687.5,1712.5V1724.6M679.9,1712.5h15.2M679.9,1724.6h15.2M767.8,1704.4V1718.4M760.2,1704.4h15.2M760.2,1718.4h15.2M848.0,1694.8V1710.9M840.4,1694.8h15.2M840.4,1710.9h15.2M928.3,1684.0V1705.7M920.7,1684.0h15.2M920.7,1705.7h15.2M1008.5,1677.2V1700.5M1000.9,1677.2h15.2M1000.9,1700.5h15.2M1088.8,1669.9V1694.8M1081.2,1669.9h15.2M1081.2,1694.8h15.2" stroke="#70ad47" stroke-width="2.6" fill="none"/><path d="M125.8,1757.8L131.8,1769.8L119.8,1769.8Z" fill="none" stroke="#70ad47" stroke-width="2.8" stroke-linejoin="round"/><path d="M206.1,1755.7L212.1,1767.7L200.1,1767.7Z" fill="none" stroke="#70ad47" stroke-width="2.8" stroke-linejoin="round"/><path d="M286.3,1749.7L292.3,1761.7L280.3,1761.7Z" fill="none" stroke="#70ad47" stroke-width="2.8" stroke-linejoin="round"/><path d="M366.6,1744.7L372.6,1756.7L360.6,1756.7Z" fill="none" stroke="#70ad47" stroke-width="2.8" stroke-linejoin="round"/><path d="M446.8,1737.6L452.8,1749.6L440.8,1749.6Z" fill="none" stroke="#70ad47" stroke-width="2.8" stroke-linejoin="round"/><path d="M527.0,1730.6L533.0,1742.6L521.0,1742.6Z" fill="none" stroke="#70ad47" stroke-width="2.8" stroke-linejoin="round"/><path d="M607.3,1722.6L613.3,1734.6L601.3,1734.6Z" fill="none" stroke="#70ad47" stroke-width="2.8" stroke-linejoin="round"/><path d="M687.5,1712.5L693.5,1724.5L681.5,1724.5Z" fill="none" stroke="#70ad47" stroke-width="2.8" stroke-linejoin="round"/><path d="M767.8,1705.4L773.8,1717.4L761.8,1717.4Z" fill="none" stroke="#70ad47" stroke-width="2.8" stroke-linejoin="round"/><path d="M848.0,1696.8L854.0,1708.8L842.0,1708.8Z" fill="none" stroke="#70ad47" stroke-width="2.8" stroke-linejoin="round"/><path d="M928.3,1688.8L934.3,1700.8L922.3,1700.8Z" fill="none" stroke="#70ad47" stroke-width="2.8" stroke-linejoin="round"/><path d="M1008.5,1682.9L1014.5,1694.9L1002.5,1694.9Z" fill="none" stroke="#70ad47" stroke-width="2.8" stroke-linejoin="round"/><path d="M1088.8,1676.3L1094.8,1688.3L1082.8,1688.3Z" fill="none" stroke="#70ad47" stroke-width="2.8" stroke-linejoin="round"/><path d="M125.8,1762.7V1764.8M118.2,1762.7h15.2M118.2,1764.8h15.2M206.1,1759.7V1761.7M198.5,1759.7h15.2M198.5,1761.7h15.2M286.3,1753.7V1757.7M278.7,1753.7h15.2M278.7,1757.7h15.2M366.6,1748.7V1752.7M358.9,1748.7h15.2M358.9,1752.7h15.2M446.8,1742.6V1746.7M439.2,1742.6h15.2M439.2,1746.7h15.2M527.0,1734.6V1740.6M519.4,1734.6h15.2M519.4,1740.6h15.2M607.3,1727.6V1733.6M599.7,1727.6h15.2M599.7,1733.6h15.2M687.5,1722.5V1728.6M679.9,1722.5h15.2M679.9,1728.6h15.2M767.8,1713.5V1721.5M760.2,1713.5h15.2M760.2,1721.5h15.2M848.0,1705.8V1715.8M840.4,1705.8h15.2M840.4,1715.8h15.2M928.3,1702.2V1712.3M920.7,1702.2h15.2M920.7,1712.3h15.2M1008.5,1696.9V1713.0M1000.9,1696.9h15.2M1000.9,1713.0h15.2M1088.8,1686.4V1715.1M1081.2,1686.4h15.2M1081.2,1715.1h15.2" stroke="#0000ff" stroke-width="2.0" fill="none"/><path d="M119.4,1763.8L132.2,1763.8M125.8,1757.3L125.8,1770.2" stroke="#0000ff" stroke-width="2.6" fill="none"/><path d="M199.7,1760.7L212.5,1760.7M206.1,1754.3L206.1,1767.1" stroke="#0000ff" stroke-width="2.6" fill="none"/><path d="M279.9,1755.7L292.7,1755.7M286.3,1749.3L286.3,1762.1" stroke="#0000ff" stroke-width="2.6" fill="none"/><path d="M360.2,1750.7L372.9,1750.7M366.6,1744.3L366.6,1757.1" stroke="#0000ff" stroke-width="2.6" fill="none"/><path d="M440.4,1744.7L453.2,1744.7M446.8,1738.3L446.8,1751.1" stroke="#0000ff" stroke-width="2.6" fill="none"/><path d="M520.6,1737.6L533.4,1737.6M527.0,1731.2L527.0,1744.0" stroke="#0000ff" stroke-width="2.6" fill="none"/><path d="M600.9,1730.6L613.7,1730.6M607.3,1724.2L607.3,1737.0" stroke="#0000ff" stroke-width="2.6" fill="none"/><path d="M681.1,1725.6L693.9,1725.6M687.5,1719.2L687.5,1732.0" stroke="#0000ff" stroke-width="2.6" fill="none"/><path d="M761.4,1717.5L774.2,1717.5M767.8,1711.1L767.8,1723.9" stroke="#0000ff" stroke-width="2.6" fill="none"/><path d="M841.6,1710.8L854.4,1710.8M848.0,1704.4L848.0,1717.2" stroke="#0000ff" stroke-width="2.6" fill="none"/><path d="M921.9,1707.3L934.7,1707.3M928.3,1700.9L928.3,1713.7" stroke="#0000ff" stroke-width="2.6" fill="none"/><path d="M1002.1,1705.0L1014.9,1705.0M1008.5,1698.6L1008.5,1711.4" stroke="#0000ff" stroke-width="2.6" fill="none"/><path d="M1082.4,1700.7L1095.2,1700.7M1088.8,1694.3L1088.8,1707.1" stroke="#0000ff" stroke-width="2.6" fill="none"/><path d="M125.8,1761.1V1763.1M118.2,1761.1h15.2M118.2,1763.1h15.2M206.1,1759.1V1761.1M198.5,1759.1h15.2M198.5,1761.1h15.2M286.3,1754.0V1756.0M278.7,1754.0h15.2M278.7,1756.0h15.2M366.6,1746.5V1750.5M358.9,1746.5h15.2M358.9,1750.5h15.2M446.8,1740.9V1745.0M439.2,1740.9h15.2M439.2,1745.0h15.2M527.0,1734.6V1738.6M519.4,1734.6h15.2M519.4,1738.6h15.2M607.3,1730.6V1734.6M599.7,1730.6h15.2M599.7,1734.6h15.2M687.5,1725.2V1729.2M679.9,1725.2h15.2M679.9,1729.2h15.2M767.8,1720.5V1724.6M760.2,1720.5h15.2M760.2,1724.6h15.2M848.0,1718.0V1722.0M840.4,1718.0h15.2M840.4,1722.0h15.2M928.3,1716.0V1720.0M920.7,1716.0h15.2M920.7,1720.0h15.2M1008.5,1715.0V1719.0M1000.9,1715.0h15.2M1000.9,1719.0h15.2M1088.8,1716.5V1720.5M1081.2,1716.5h15.2M1081.2,1720.5h15.2" stroke="#00b050" stroke-width="2.0" fill="none"/><rect x="118.2" y="1758.5" width="15.2" height="7.2" rx="1.5" fill="#00b050"/><rect x="198.5" y="1756.5" width="15.2" height="7.2" rx="1.5" fill="#00b050"/><rect x="278.7" y="1751.4" width="15.2" height="7.2" rx="1.5" fill="#00b050"/><rect x="358.9" y="1744.9" width="15.2" height="7.2" rx="1.5" fill="#00b050"/><rect x="439.2" y="1739.3" width="15.2" height="7.2" rx="1.5" fill="#00b050"/><rect x="519.4" y="1733.0" width="15.2" height="7.2" rx="1.5" fill="#00b050"/><rect x="599.7" y="1729.0" width="15.2" height="7.2" rx="1.5" fill="#00b050"/><rect x="679.9" y="1723.6" width="15.2" height="7.2" rx="1.5" fill="#00b050"/><rect x="760.2" y="1718.9" width="15.2" height="7.2" rx="1.5" fill="#00b050"/><rect x="840.4" y="1716.4" width="15.2" height="7.2" rx="1.5" fill="#00b050"/><rect x="920.7" y="1714.4" width="15.2" height="7.2" rx="1.5" fill="#00b050"/><rect x="1000.9" y="1713.4" width="15.2" height="7.2" rx="1.5" fill="#00b050"/><rect x="1081.2" y="1714.9" width="15.2" height="7.2" rx="1.5" fill="#00b050"/><rect x="1291.6" y="1442.8" width="203.3" height="310.8" fill="#fff" stroke="#000" stroke-width="2.9"/><path d="M1315.6,1462.7L1322.0,1469.1L1315.6,1475.5L1309.2,1469.1Z" fill="none" stroke="#ff0000" stroke-width="3"/><text x="1330.6" y="1478.6" font-size="29">KEV 50,000</text><rect x="1309.4" y="1514.5" width="12.4" height="12.4" fill="none" stroke="#a5a5a5" stroke-width="2.7"/><text x="1330.6" y="1530.2" font-size="29">KEV 15,000</text><circle cx="1315.6" cy="1572.3" r="6.1" fill="none" stroke="#5b9bd5" stroke-width="2.6"/><text x="1330.6" y="1581.8" font-size="29">KEV 5,000</text><path d="M1315.6,1617.9L1321.6,1629.9L1309.6,1629.9Z" fill="none" stroke="#70ad47" stroke-width="2.8" stroke-linejoin="round"/><text x="1330.6" y="1633.4" font-size="29">KEV 1,500</text><path d="M1309.2,1675.5L1322.0,1675.5M1315.6,1669.1L1315.6,1681.9" stroke="#0000ff" stroke-width="2.6" fill="none"/><text x="1330.6" y="1685.0" font-size="29">KEV 500</text><rect x="1308.0" y="1723.5" width="15.2" height="7.2" rx="1.5" fill="#00b050"/><text x="1330.6" y="1736.6" font-size="29">Static</text>
</svg></body></html>
